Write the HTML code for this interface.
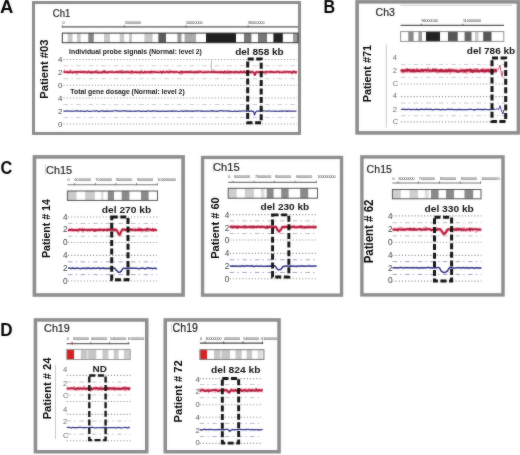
<!DOCTYPE html>
<html><head><meta charset="utf-8"><style>
html,body{margin:0;padding:0;background:#fff;}
svg{display:block;font-family:"Liberation Sans", sans-serif;}
</style></head><body>
<svg width="520" height="455" viewBox="0 0 520 455">
<defs><filter id="soft" x="0" y="0" width="100%" height="100%" color-interpolation-filters="sRGB"><feGaussianBlur in="SourceGraphic" stdDeviation="1" result="b"/><feComposite in="SourceGraphic" in2="b" operator="arithmetic" k1="0" k2="0.65" k3="0.35" k4="0"/></filter></defs>
<g filter="url(#soft)">
<rect width="520" height="455" fill="#fff"/>
<text x="-0.11" y="12.70" font-size="18.00" font-weight="bold" fill="#000" textLength="13.37" lengthAdjust="spacingAndGlyphs" >A</text>
<text x="323.51" y="12.50" font-size="17.50" font-weight="bold" fill="#000" textLength="11.60" lengthAdjust="spacingAndGlyphs" >B</text>
<text x="0.50" y="174.19" font-size="18.34" font-weight="bold" fill="#000" textLength="11.80" lengthAdjust="spacingAndGlyphs" >C</text>
<text x="0.24" y="336.19" font-size="17.59" font-weight="bold" fill="#000" textLength="12.33" lengthAdjust="spacingAndGlyphs" >D</text>
<rect x="33.50" y="2.50" width="266.00" height="131.00" fill="#fff" stroke="#8d8d8d" stroke-width="3"/>
<text x="52.77" y="17.19" font-size="10.40" font-weight="normal" fill="#1a1a1a" textLength="17.50" lengthAdjust="spacingAndGlyphs" stroke="#1a1a1a" stroke-width="0.2">Ch1</text>
<line x1="62.3" y1="26.9" x2="298" y2="26.9" stroke="#555" stroke-width="1.1" />
<line x1="62.3" y1="25.299999999999997" x2="62.3" y2="27.5" stroke="#555" stroke-width="1.0" />
<line x1="124.3" y1="25.299999999999997" x2="124.3" y2="27.5" stroke="#555" stroke-width="1.0" />
<line x1="186" y1="25.299999999999997" x2="186" y2="27.5" stroke="#555" stroke-width="1.0" />
<line x1="248.1" y1="25.299999999999997" x2="248.1" y2="27.5" stroke="#555" stroke-width="1.0" />
<text x="62.4" y="23.5" font-size="3.65" font-weight="normal" fill="#222" text-anchor="start" >0</text>
<text x="124.8" y="23.5" font-size="3.65" font-weight="normal" fill="#222" text-anchor="start" >20000000</text>
<text x="186.3" y="23.5" font-size="3.65" font-weight="normal" fill="#222" text-anchor="start" >50000000</text>
<text x="248.3" y="23.5" font-size="3.65" font-weight="normal" fill="#222" text-anchor="start" >96000000</text>
<rect x="62.3" y="33.1" width="235.7" height="9.600000000000001" fill="#fff" stroke="none"/>
<rect x="67.7" y="33.1" width="4.799999999999997" height="9.600000000000001" fill="#c8c8c8"/>
<rect x="77" y="33.1" width="3.5999999999999943" height="9.600000000000001" fill="#c8c8c8"/>
<rect x="88.3" y="33.1" width="5.5" height="9.600000000000001" fill="#858585"/>
<rect x="104" y="33.1" width="6" height="9.600000000000001" fill="#c8c8c8"/>
<rect x="119.7" y="33.1" width="4.5" height="9.600000000000001" fill="#c8c8c8"/>
<rect x="129" y="33.1" width="3" height="9.600000000000001" fill="#c8c8c8"/>
<rect x="144.4" y="33.1" width="8.099999999999994" height="9.600000000000001" fill="#c8c8c8"/>
<rect x="158.4" y="33.1" width="7.599999999999994" height="9.600000000000001" fill="#5a5a5a"/>
<rect x="177.4" y="33.1" width="4.0" height="9.600000000000001" fill="#999"/>
<rect x="184.6" y="33.1" width="11.400000000000006" height="9.600000000000001" fill="#ababab"/>
<rect x="206" y="33.1" width="30" height="9.600000000000001" fill="#1e1e1e"/>
<rect x="244" y="33.1" width="7.400000000000006" height="9.600000000000001" fill="#777"/>
<rect x="258" y="33.1" width="9" height="9.600000000000001" fill="#777"/>
<rect x="273.4" y="33.1" width="9.400000000000034" height="9.600000000000001" fill="#222"/>
<rect x="293" y="33.1" width="5" height="9.600000000000001" fill="#999"/>
<rect x="62.3" y="33.1" width="235.7" height="9.600000000000001" fill="none" stroke="#333" stroke-width="1"/>
<text x="69.11" y="53.90" font-size="6.70" font-weight="bold" fill="#111" textLength="132.78" lengthAdjust="spacingAndGlyphs" >Individual probe signals (Normal: level 2)</text>
<text x="70.38" y="94.40" font-size="6.75" font-weight="bold" fill="#111" textLength="114.30" lengthAdjust="spacingAndGlyphs" >Total gene dosage (Normal: level 2)</text>
<text x="57.9" y="62.080000000000005" font-size="8" font-weight="normal" fill="#444" text-anchor="start" >4</text>
<text x="57.9" y="74.58" font-size="8" font-weight="normal" fill="#444" text-anchor="start" >2</text>
<text x="57.9" y="87.97999999999999" font-size="8" font-weight="normal" fill="#444" text-anchor="start" >0</text>
<text x="57.9" y="101.08" font-size="8" font-weight="normal" fill="#444" text-anchor="start" >4</text>
<text x="57.9" y="114.17999999999999" font-size="8" font-weight="normal" fill="#444" text-anchor="start" >2</text>
<text x="57.9" y="126.88" font-size="8" font-weight="normal" fill="#444" text-anchor="start" >0</text>
<line x1="63.5" y1="59.5" x2="297" y2="59.5" stroke="#8e8e8e" stroke-width="1.1" stroke-dasharray="1.1,2.05" />
<line x1="63.5" y1="85.3" x2="297" y2="85.3" stroke="#8e8e8e" stroke-width="1.1" stroke-dasharray="1.1,2.05" />
<line x1="63.5" y1="65.8" x2="297" y2="65.8" stroke="#c8c8d2" stroke-width="0.95" stroke-dasharray="4.5,3.2,1.4,3.5" />
<line x1="63.5" y1="78.69999999999999" x2="297" y2="78.69999999999999" stroke="#c8c8d2" stroke-width="0.95" stroke-dasharray="4.5,3.2,1.4,3.5" />
<polyline points="63.5,72.05 65.0,72.20 66.5,72.05 68.0,72.04 69.5,71.91 71.0,72.06 72.5,72.32 74.0,72.18 75.5,72.31 77.0,72.15 78.5,72.18 80.0,72.14 81.5,71.77 83.0,72.27 84.5,72.20 86.0,72.20 87.5,71.76 89.0,71.75 90.5,71.92 92.0,72.01 93.5,72.16 95.0,72.09 96.5,72.20 98.0,71.97 99.5,72.16 101.0,72.18 102.5,71.97 104.0,72.44 105.5,72.21 107.0,72.34 108.5,71.98 110.0,71.95 111.5,72.03 113.0,72.08 114.5,72.23 116.0,72.15 117.5,72.01 119.0,71.91 120.5,72.00 122.0,72.34 123.5,71.94 125.0,72.15 126.5,72.19 128.0,71.80 129.5,72.11 131.0,72.36 132.5,71.70 134.0,72.04 135.5,72.08 137.0,71.94 138.5,72.20 140.0,72.09 141.5,71.81 143.0,72.27 144.5,72.23 146.0,72.29 147.5,72.39 149.0,72.17 150.5,72.12 152.0,71.84 153.5,72.22 155.0,71.98 156.5,72.01 158.0,71.85 159.5,71.91 161.0,71.99 162.5,72.36 164.0,71.69 165.5,71.81 167.0,72.15 168.5,72.39 170.0,72.22 171.5,71.72 173.0,71.60 174.5,72.17 176.0,71.95 177.5,71.88 179.0,72.30 180.5,72.32 182.0,72.13 183.5,72.15 185.0,72.19 186.5,72.42 188.0,72.22 189.5,72.20 191.0,72.21 192.5,71.79 194.0,72.36 195.5,72.29 197.0,72.21 198.5,71.71 200.0,71.97 201.5,72.27 203.0,71.74 204.5,72.06 206.0,72.30 207.5,71.84 209.0,72.42 210.5,72.21 212.0,72.07 213.5,72.16 215.0,72.23 216.5,72.12 218.0,72.33 219.5,71.97 221.0,72.02 222.5,72.31 224.0,72.11 225.5,71.92 227.0,72.29 228.5,72.39 230.0,72.01 231.5,71.82 233.0,72.07 234.5,72.07 236.0,72.04 237.5,72.38 239.0,71.89 240.5,72.35 242.0,71.85 243.5,71.94 245.0,72.23 246.5,72.33 248.0,72.27 249.5,72.17 251.0,72.13 252.5,72.13 254.0,73.12 255.5,73.41 257.0,72.16 258.5,72.21 260.0,72.10 261.5,72.25 263.0,72.21 264.5,72.50 266.0,72.16 267.5,72.01 269.0,72.03 270.5,72.10 272.0,72.28 273.5,72.03 275.0,72.18 276.5,72.47 278.0,71.59 279.5,71.88 281.0,72.15 282.5,72.18 284.0,72.15 285.5,72.01 287.0,72.23 288.5,72.16 290.0,72.00 291.5,72.59 293.0,72.17 294.5,71.99 296.0,72.08" fill="none" stroke="#f4c2cf" stroke-width="3.2" stroke-linejoin="round" opacity="1"/>
<polyline points="63.5,71.87 64.0,72.04 64.4,69.37 64.9,71.61 65.3,73.11 65.8,70.93 66.2,72.03 66.7,73.05 67.1,72.96 67.6,73.59 68.0,70.40 68.5,71.75 68.9,71.76 69.4,72.72 69.8,73.19 70.3,69.42 70.7,73.19 71.2,70.65 71.6,72.78 72.1,70.61 72.5,72.28 73.0,73.29 73.4,71.95 73.9,72.29 74.3,72.90 74.8,72.24 75.2,72.01 75.7,73.63 76.1,73.15 76.6,71.81 77.0,74.85 77.5,70.95 77.9,73.01 78.4,71.83 78.8,72.23 79.3,72.81 79.7,72.32 80.2,72.74 80.6,70.57 81.1,70.59 81.5,72.71 82.0,71.14 82.4,71.07 82.9,70.63 83.3,73.37 83.8,72.85 84.2,73.57 84.7,71.16 85.1,72.10 85.6,70.96 86.0,72.87 86.5,73.69 86.9,71.21 87.4,73.66 87.8,73.09 88.3,71.92 88.7,70.13 89.2,73.51 89.6,72.00 90.1,71.50 90.5,72.50 91.0,72.51 91.4,73.60 91.9,71.08 92.3,73.24 92.8,73.59 93.2,73.55 93.7,71.92 94.1,71.36 94.6,73.12 95.0,72.22 95.5,72.22 95.9,73.52 96.4,71.84 96.8,69.80 97.3,71.71 97.7,70.25 98.2,72.92 98.6,72.42 99.1,71.49 99.5,72.09 100.0,72.93 100.4,72.18 100.9,73.43 101.3,72.04 101.8,73.14 102.2,73.59 102.7,73.71 103.1,71.43 103.6,72.98 104.0,70.22 104.5,71.02 104.9,70.14 105.4,73.17 105.8,70.87 106.3,72.09 106.7,71.91 107.2,72.07 107.6,71.51 108.1,72.33 108.5,73.89 109.0,72.14 109.4,72.63 109.9,73.10 110.3,71.90 110.8,70.84 111.2,71.54 111.7,73.17 112.1,70.45 112.6,71.50 113.0,73.11 113.5,72.89 113.9,72.11 114.4,72.91 114.8,72.27 115.3,70.92 115.7,70.54 116.2,71.46 116.6,73.02 117.1,71.53 117.5,71.20 118.0,71.33 118.4,70.57 118.9,71.98 119.3,70.92 119.8,72.46 120.2,69.74 120.7,72.43 121.1,71.46 121.6,70.16 122.0,72.82 122.5,71.82 122.9,69.87 123.4,71.22 123.8,72.39 124.3,71.64 124.7,72.88 125.2,72.85 125.6,72.77 126.1,72.43 126.5,73.43 127.0,72.76 127.4,72.55 127.9,70.02 128.3,73.00 128.8,73.41 129.2,71.80 129.7,71.63 130.1,74.04 130.6,70.34 131.0,72.57 131.5,74.52 131.9,71.17 132.4,72.79 132.8,73.99 133.3,71.98 133.7,72.66 134.2,73.00 134.6,71.19 135.1,72.01 135.5,72.39 136.0,72.93 136.4,72.07 136.9,71.90 137.3,71.08 137.8,71.74 138.2,72.99 138.7,72.20 139.1,71.25 139.6,71.26 140.0,74.77 140.5,73.24 140.9,72.74 141.4,69.51 141.8,72.72 142.3,72.58 142.7,73.78 143.2,72.53 143.6,72.03 144.1,72.62 144.5,70.16 144.9,73.13 145.4,72.42 145.8,71.40 146.3,73.43 146.7,73.91 147.2,70.70 147.6,71.43 148.1,72.39 148.5,72.28 149.0,71.70 149.4,71.13 149.9,74.22 150.3,73.14 150.8,70.91 151.2,70.75 151.7,73.80 152.1,73.09 152.6,73.92 153.0,72.91 153.5,71.23 153.9,72.36 154.4,69.94 154.8,71.35 155.3,72.04 155.7,72.62 156.2,71.37 156.6,71.98 157.1,72.56 157.5,72.48 158.0,72.74 158.4,72.31 158.9,71.78 159.3,72.89 159.8,72.15 160.2,71.27 160.7,71.47 161.1,72.10 161.6,71.99 162.0,72.26 162.5,72.10 162.9,72.28 163.4,71.97 163.8,70.84 164.3,72.52 164.7,73.15 165.2,72.53 165.6,71.91 166.1,72.55 166.5,71.13 167.0,70.20 167.4,72.16 167.9,71.17 168.3,72.84 168.8,71.02 169.2,69.47 169.7,71.06 170.1,73.68 170.6,71.72 171.0,70.73 171.5,71.34 171.9,72.62 172.4,72.60 172.8,72.28 173.3,73.58 173.7,72.81 174.2,72.08 174.6,72.70 175.1,73.75 175.5,73.07 176.0,73.12 176.4,71.02 176.9,71.95 177.3,72.83 177.8,71.80 178.2,73.17 178.7,72.70 179.1,73.01 179.6,71.89 180.0,74.65 180.5,73.34 180.9,71.88 181.4,72.19 181.8,74.70 182.3,71.76 182.7,72.97 183.2,73.08 183.6,72.11 184.1,70.93 184.5,72.29 185.0,72.46 185.4,73.23 185.9,72.88 186.3,72.12 186.8,72.95 187.2,72.64 187.7,72.31 188.1,72.16 188.6,71.86 189.0,72.79 189.5,71.05 189.9,71.47 190.4,72.10 190.8,70.64 191.3,71.66 191.7,70.09 192.2,71.42 192.6,72.67 193.1,72.67 193.5,72.05 194.0,71.87 194.4,70.68 194.9,73.93 195.3,72.62 195.8,73.19 196.2,71.22 196.7,71.91 197.1,70.28 197.6,72.88 198.0,73.04 198.5,70.20 198.9,72.05 199.4,72.73 199.8,70.34 200.3,70.27 200.7,71.03 201.2,71.47 201.6,70.70 202.1,72.13 202.5,72.35 203.0,72.73 203.4,72.80 203.9,73.60 204.3,73.26 204.8,70.79 205.2,71.59 205.7,71.04 206.1,71.02 206.6,72.02 207.0,72.11 207.5,72.59 207.9,70.51 208.4,70.86 208.8,72.08 209.3,71.90 209.7,71.79 210.2,72.04 210.6,71.34 211.1,72.80 211.5,72.45 212.0,72.01 212.4,71.43 212.9,71.93 213.3,69.38 213.8,71.12 214.2,72.14 214.7,70.60 215.1,72.30 215.6,72.25 216.0,70.72 216.5,71.85 216.9,71.79 217.4,72.56 217.8,72.71 218.3,72.06 218.7,71.25 219.2,71.96 219.6,72.03 220.1,72.83 220.5,72.39 221.0,71.38 221.4,70.75 221.9,71.73 222.3,71.36 222.8,70.99 223.2,71.98 223.7,71.61 224.1,72.21 224.6,72.62 225.0,71.69 225.5,74.42 225.9,71.78 226.4,73.20 226.8,72.22 227.3,73.22 227.7,69.72 228.2,71.35 228.6,72.35 229.1,72.70 229.5,74.44 230.0,72.42 230.4,73.38 230.9,72.87 231.3,73.05 231.8,72.61 232.2,71.94 232.7,72.61 233.1,71.02 233.6,73.28 234.0,71.08 234.5,72.35 234.9,74.22 235.4,71.88 235.8,72.12 236.3,73.26 236.7,72.13 237.2,71.29 237.6,72.36 238.1,72.68 238.5,72.81 239.0,71.33 239.4,73.85 239.9,73.77 240.3,72.12 240.8,72.37 241.2,71.67 241.7,73.51 242.1,71.40 242.6,72.77 243.0,71.62 243.5,71.41 243.9,72.82 244.4,73.43 244.8,72.09 245.3,71.42 245.7,72.91 246.2,72.05 246.6,72.41 247.1,73.62 247.5,73.23 248.0,71.58 248.4,74.38 248.9,72.10 249.3,72.89 249.8,71.45 250.2,72.06 250.7,70.35 251.1,73.89 251.6,73.47 252.0,70.88 252.5,70.59 252.9,70.48 253.4,73.28 253.8,71.87 254.3,74.29 254.7,76.06 255.2,74.68 255.6,71.69 256.1,72.12 256.5,70.66 257.0,72.03 257.4,72.41 257.9,72.57 258.3,71.87 258.8,71.20 259.2,72.26 259.7,71.62 260.1,73.67 260.6,72.87 261.0,71.98 261.5,71.63 261.9,71.40 262.4,71.16 262.8,71.75 263.3,72.39 263.7,72.62 264.2,72.67 264.6,74.20 265.1,71.40 265.5,72.11 266.0,74.89 266.4,70.23 266.9,71.58 267.3,72.27 267.8,72.25 268.2,72.51 268.7,71.86 269.1,72.47 269.6,72.15 270.0,72.87 270.5,70.21 270.9,71.21 271.4,72.10 271.8,71.07 272.3,71.06 272.7,72.73 273.2,71.45 273.6,72.73 274.1,72.85 274.5,72.41 275.0,72.61 275.4,72.00 275.9,70.69 276.3,72.07 276.8,72.55 277.2,71.57 277.7,72.00 278.1,72.85 278.6,71.22 279.0,72.74 279.5,73.96 279.9,71.55 280.4,72.25 280.8,71.95 281.3,73.64 281.7,72.42 282.2,73.00 282.6,71.41 283.1,72.08 283.5,72.09 284.0,70.32 284.4,73.54 284.9,73.00 285.3,70.35 285.8,72.84 286.2,71.97 286.7,72.55 287.1,72.47 287.6,70.60 288.0,71.89 288.5,73.59 288.9,71.53 289.4,71.08 289.8,70.74 290.3,70.88 290.7,72.44 291.2,73.79 291.6,72.53 292.1,72.35 292.5,74.33 293.0,71.58 293.4,71.43 293.9,72.63 294.3,72.65 294.8,71.09 295.2,70.93 295.7,72.39 296.1,72.35 296.6,70.79" fill="none" stroke="#de6080" stroke-width="0.65" stroke-linejoin="round" opacity="0.8"/>
<polyline points="63.5,72.03 64.2,71.91 64.9,72.26 65.6,72.06 66.3,72.07 67.0,71.98 67.7,72.47 68.4,72.59 69.1,71.97 69.8,72.40 70.5,71.83 71.2,72.13 71.9,72.36 72.6,72.63 73.3,71.97 74.0,72.07 74.7,72.17 75.4,71.58 76.1,72.11 76.8,71.86 77.5,72.23 78.2,71.70 78.9,71.41 79.6,72.11 80.3,72.19 81.0,71.91 81.7,72.41 82.4,72.00 83.1,71.89 83.8,72.27 84.5,71.55 85.2,71.86 85.9,72.09 86.6,72.40 87.3,72.04 88.0,72.21 88.7,71.87 89.4,72.21 90.1,72.68 90.8,71.86 91.5,72.93 92.2,71.87 92.9,72.11 93.6,72.16 94.3,72.46 95.0,71.67 95.7,71.36 96.4,72.31 97.1,72.38 97.8,72.32 98.5,73.02 99.2,72.17 99.9,72.19 100.6,72.43 101.3,72.23 102.0,72.68 102.7,71.67 103.4,71.97 104.1,70.89 104.8,72.38 105.5,71.97 106.2,72.42 106.9,72.85 107.6,72.10 108.3,72.01 109.0,71.93 109.7,71.81 110.4,71.88 111.1,72.32 111.8,72.11 112.5,72.12 113.2,72.04 113.9,72.42 114.6,72.27 115.3,72.05 116.0,72.33 116.7,72.05 117.4,71.70 118.1,72.61 118.8,72.26 119.5,71.76 120.2,72.48 120.9,72.22 121.6,71.55 122.3,72.66 123.0,72.22 123.7,72.41 124.4,72.17 125.1,72.05 125.8,71.56 126.5,72.44 127.2,72.11 127.9,72.00 128.6,72.22 129.3,72.13 130.0,72.34 130.7,71.97 131.4,72.09 132.1,71.35 132.8,71.95 133.5,72.34 134.2,72.57 134.9,71.97 135.6,72.06 136.3,72.65 137.0,71.99 137.7,72.36 138.4,72.69 139.1,72.11 139.8,72.53 140.5,71.85 141.2,72.17 141.9,72.07 142.6,72.14 143.3,72.50 144.0,72.94 144.7,71.87 145.4,71.90 146.1,72.27 146.8,71.73 147.5,72.27 148.2,72.30 148.9,72.00 149.6,72.29 150.3,71.56 151.0,72.37 151.7,71.56 152.4,71.86 153.1,71.91 153.8,71.96 154.5,72.40 155.2,72.13 155.9,71.96 156.6,72.29 157.3,72.65 158.0,72.10 158.7,72.23 159.4,72.53 160.1,72.19 160.8,71.65 161.5,72.97 162.2,72.87 162.9,71.41 163.6,72.09 164.3,72.25 165.0,72.44 165.7,72.33 166.4,72.00 167.1,71.73 167.8,72.14 168.5,72.46 169.2,71.72 169.9,71.74 170.6,72.09 171.3,71.42 172.0,72.01 172.7,71.95 173.4,72.26 174.1,71.85 174.8,71.79 175.5,71.96 176.2,72.08 176.9,71.87 177.6,72.10 178.3,72.36 179.0,72.51 179.7,72.70 180.4,71.83 181.1,71.95 181.8,71.23 182.5,72.76 183.2,71.85 183.9,72.09 184.6,72.28 185.3,71.62 186.0,72.26 186.7,72.09 187.4,71.46 188.1,72.20 188.8,72.52 189.5,71.45 190.2,72.38 190.9,72.17 191.6,72.27 192.3,72.25 193.0,72.56 193.7,72.02 194.4,72.41 195.1,71.96 195.8,72.35 196.5,71.82 197.2,72.06 197.9,72.71 198.6,72.26 199.3,72.04 200.0,71.70 200.7,71.82 201.4,72.17 202.1,72.43 202.8,72.25 203.5,72.28 204.2,72.09 204.9,72.57 205.6,71.96 206.3,71.91 207.0,72.41 207.7,72.12 208.4,72.00 209.1,71.90 209.8,72.01 210.5,72.32 211.2,72.22 211.9,71.68 212.6,72.25 213.3,72.16 214.0,71.75 214.7,72.37 215.4,72.00 216.1,71.98 216.8,72.38 217.5,72.56 218.2,71.86 218.9,72.25 219.6,71.79 220.3,72.91 221.0,71.93 221.7,72.52 222.4,71.87 223.1,72.38 223.8,72.88 224.5,71.21 225.2,71.95 225.9,72.28 226.6,72.07 227.3,71.87 228.0,72.85 228.7,72.13 229.4,71.52 230.1,72.40 230.8,71.50 231.5,72.50 232.2,71.90 232.9,72.15 233.6,72.54 234.3,72.14 235.0,71.61 235.7,71.51 236.4,72.51 237.1,72.36 237.8,71.81 238.5,72.40 239.2,72.27 239.9,72.33 240.6,71.31 241.3,71.99 242.0,72.42 242.7,72.36 243.4,72.41 244.1,71.24 244.8,72.16 245.5,72.27 246.2,72.99 246.9,71.77 247.6,71.98 248.3,72.11 249.0,72.41 249.7,71.94 250.4,72.50 251.1,71.82 251.8,72.19 252.5,71.92 253.2,72.16 253.9,72.31 254.6,75.14 255.3,74.73 256.0,72.21 256.7,71.90 257.4,72.17 258.1,72.45 258.8,71.76 259.5,72.06 260.2,72.29 260.9,72.28 261.6,71.98 262.3,71.36 263.0,72.54 263.7,72.21 264.4,72.10 265.1,72.00 265.8,72.19 266.5,71.95 267.2,71.74 267.9,71.84 268.6,71.89 269.3,71.89 270.0,71.69 270.7,72.32 271.4,71.64 272.1,72.33 272.8,71.74 273.5,72.22 274.2,72.58 274.9,72.17 275.6,71.84 276.3,72.12 277.0,72.15 277.7,71.49 278.4,71.89 279.1,72.16 279.8,71.94 280.5,72.13 281.2,72.36 281.9,72.37 282.6,72.42 283.3,72.31 284.0,72.00 284.7,72.09 285.4,72.01 286.1,71.99 286.8,72.04 287.5,71.50 288.2,71.98 288.9,72.09 289.6,71.76 290.3,72.09 291.0,72.28 291.7,72.04 292.4,72.83 293.1,71.19 293.8,72.03 294.5,71.46 295.2,72.44 295.9,73.03 296.6,71.22" fill="none" stroke="#b01838" stroke-width="1.5" stroke-linejoin="round" opacity="1"/>
<line x1="211.4" y1="60.5" x2="211.4" y2="71" stroke="#8a8a8a" stroke-width="0.6" />
<line x1="63.5" y1="98" x2="297" y2="98" stroke="#8e8e8e" stroke-width="1.1" stroke-dasharray="1.1,2.05" />
<line x1="63.5" y1="124" x2="297" y2="124" stroke="#8e8e8e" stroke-width="1.1" stroke-dasharray="1.1,2.05" />
<line x1="63.5" y1="104.55" x2="297" y2="104.55" stroke="#c4c6d2" stroke-width="0.95" stroke-dasharray="4.5,3.2,1.4,3.5" />
<line x1="63.5" y1="117.55" x2="297" y2="117.55" stroke="#c4c6d2" stroke-width="0.95" stroke-dasharray="4.5,3.2,1.4,3.5" />
<polyline points="63.5,111.13 64.5,111.20 65.5,111.04 66.5,111.21 67.5,110.65 68.5,111.27 69.5,111.17 70.5,111.10 71.5,110.98 72.5,111.23 73.5,111.00 74.5,111.14 75.5,111.00 76.5,110.65 77.5,111.09 78.5,111.14 79.5,111.25 80.5,110.92 81.5,111.09 82.5,111.22 83.5,111.13 84.5,111.35 85.5,111.50 86.5,110.92 87.5,110.72 88.5,111.27 89.5,111.41 90.5,111.28 91.5,111.26 92.5,110.98 93.5,110.96 94.5,111.28 95.5,110.92 96.5,110.74 97.5,110.90 98.5,111.60 99.5,111.48 100.5,110.96 101.5,110.95 102.5,111.15 103.5,110.95 104.5,111.36 105.5,111.08 106.5,110.88 107.5,111.36 108.5,110.98 109.5,111.14 110.5,111.10 111.5,111.04 112.5,111.16 113.5,110.96 114.5,110.73 115.5,110.66 116.5,110.85 117.5,110.95 118.5,111.10 119.5,111.11 120.5,111.21 121.5,111.12 122.5,110.94 123.5,110.96 124.5,110.68 125.5,111.07 126.5,111.20 127.5,111.21 128.5,111.08 129.5,111.07 130.5,111.29 131.5,111.10 132.5,111.25 133.5,111.22 134.5,111.14 135.5,111.36 136.5,110.99 137.5,111.03 138.5,110.94 139.5,110.94 140.5,111.41 141.5,111.45 142.5,111.10 143.5,111.21 144.5,111.34 145.5,111.26 146.5,111.34 147.5,110.85 148.5,110.97 149.5,111.19 150.5,111.39 151.5,111.12 152.5,110.93 153.5,111.03 154.5,110.97 155.5,110.93 156.5,111.40 157.5,110.97 158.5,111.10 159.5,111.53 160.5,111.34 161.5,111.17 162.5,110.98 163.5,111.18 164.5,111.42 165.5,111.22 166.5,111.35 167.5,111.12 168.5,111.20 169.5,111.06 170.5,111.19 171.5,111.36 172.5,110.81 173.5,111.09 174.5,111.15 175.5,110.99 176.5,111.04 177.5,111.26 178.5,111.50 179.5,111.23 180.5,111.17 181.5,110.79 182.5,111.49 183.5,111.12 184.5,111.09 185.5,110.88 186.5,111.09 187.5,110.88 188.5,111.11 189.5,111.19 190.5,111.11 191.5,111.16 192.5,110.93 193.5,111.39 194.5,110.97 195.5,110.74 196.5,111.06 197.5,110.95 198.5,110.90 199.5,111.03 200.5,111.16 201.5,110.86 202.5,111.07 203.5,111.39 204.5,111.24 205.5,111.07 206.5,111.13 207.5,111.08 208.5,111.09 209.5,111.25 210.5,111.08 211.5,110.62 212.5,111.10 213.5,110.92 214.5,111.23 215.5,110.98 216.5,111.13 217.5,111.54 218.5,110.89 219.5,110.88 220.5,110.82 221.5,110.62 222.5,110.72 223.5,111.17 224.5,110.97 225.5,110.73 226.5,110.80 227.5,111.22 228.5,110.94 229.5,111.03 230.5,111.17 231.5,111.37 232.5,111.49 233.5,111.31 234.5,111.13 235.5,111.14 236.5,111.46 237.5,111.39 238.5,111.04 239.5,111.19 240.5,111.16 241.5,111.11 242.5,111.00 243.5,110.83 244.5,110.99 245.5,110.79 246.5,111.34 247.5,111.21 248.5,110.86 249.5,111.38 250.5,111.28 251.5,110.72 252.5,111.47 253.5,111.26 254.5,115.01 255.5,112.35 256.5,111.21 257.5,111.18 258.5,111.14 259.5,111.13 260.5,111.31 261.5,110.80 262.5,110.85 263.5,110.82 264.5,110.99 265.5,110.98 266.5,111.17 267.5,111.15 268.5,111.11 269.5,110.96 270.5,111.01 271.5,111.29 272.5,111.25 273.5,111.12 274.5,111.04 275.5,111.41 276.5,110.98 277.5,111.23 278.5,111.33 279.5,111.05 280.5,111.27 281.5,110.88 282.5,111.30 283.5,111.14 284.5,110.78 285.5,111.23 286.5,110.92 287.5,111.36 288.5,110.96 289.5,111.07 290.5,111.16 291.5,111.03 292.5,111.15 293.5,110.99 294.5,111.23 295.5,111.10 296.5,111.14" fill="none" stroke="#2e2e84" stroke-width="1.2" stroke-linejoin="round" opacity="1"/>
<text x="235.15" y="54.69" font-size="9.71" font-weight="bold" fill="#111" textLength="48.61" lengthAdjust="spacingAndGlyphs" >del 858 kb</text>
<rect x="247.7" y="59.0" width="13.5" height="63.8" fill="none" stroke="#111" stroke-width="3" stroke-dasharray="6,2.6"/>
<text transform="translate(47.99,98.78) rotate(-90)" font-size="11.09" font-weight="bold" fill="#000" textLength="59.23" lengthAdjust="spacingAndGlyphs">Patient #03</text>
<rect x="357.10" y="1.80" width="161.40" height="131.10" fill="#fff" stroke="#8d8d8d" stroke-width="3.6"/>
<line x1="400.6" y1="5.2" x2="512" y2="5.2" stroke="#c4c4c4" stroke-width="0.9" />
<text x="375.52" y="16.39" font-size="10.40" font-weight="normal" fill="#1a1a1a" textLength="19.34" lengthAdjust="spacingAndGlyphs" stroke="#1a1a1a" stroke-width="0.2">Ch3</text>
<line x1="400.6" y1="25.4" x2="504" y2="25.4" stroke="#555" stroke-width="1.1" />
<line x1="421.3" y1="23.799999999999997" x2="421.3" y2="26.0" stroke="#555" stroke-width="1.0" />
<line x1="462.8" y1="23.799999999999997" x2="462.8" y2="26.0" stroke="#555" stroke-width="1.0" />
<text x="421.5" y="22.0" font-size="3.65" font-weight="normal" fill="#222" text-anchor="start" >96000000</text>
<text x="463" y="22.0" font-size="3.65" font-weight="normal" fill="#222" text-anchor="start" >110000000</text>
<rect x="400.6" y="31.6" width="103.19999999999999" height="9.799999999999997" fill="#fff" stroke="none"/>
<rect x="408.3" y="31.6" width="5.300000000000011" height="9.799999999999997" fill="#888"/>
<rect x="418.4" y="31.6" width="3.6000000000000227" height="9.799999999999997" fill="#999"/>
<rect x="426" y="31.6" width="14" height="9.799999999999997" fill="#222"/>
<rect x="448" y="31.6" width="9.699999999999989" height="9.799999999999997" fill="#555"/>
<rect x="464.6" y="31.6" width="6.899999999999977" height="9.799999999999997" fill="#666"/>
<rect x="475" y="31.6" width="3.5" height="9.799999999999997" fill="#ccc"/>
<rect x="483.2" y="31.6" width="8.300000000000011" height="9.799999999999997" fill="#555"/>
<rect x="400.6" y="31.6" width="103.19999999999999" height="9.799999999999997" fill="none" stroke="#8f8f8f" stroke-width="1"/>
<line x1="386.3" y1="44.5" x2="386.3" y2="127.5" stroke="#c8c8c8" stroke-width="1" />
<text transform="translate(371.49,102.36) rotate(-90)" font-size="11.37" font-weight="bold" fill="#000" textLength="57.38" lengthAdjust="spacingAndGlyphs">Patient #71</text>
<text x="392.8" y="59.635999999999996" font-size="7.6" font-weight="normal" fill="#666" text-anchor="start" >4</text>
<text x="392.8" y="73.236" font-size="7.6" font-weight="normal" fill="#666" text-anchor="start" >2</text>
<text x="392.8" y="85.936" font-size="7.6" font-weight="normal" fill="#666" text-anchor="start" >C</text>
<text x="392.8" y="97.836" font-size="7.6" font-weight="normal" fill="#666" text-anchor="start" >4</text>
<text x="392.8" y="112.036" font-size="7.6" font-weight="normal" fill="#666" text-anchor="start" >2</text>
<text x="392.8" y="124.336" font-size="7.6" font-weight="normal" fill="#666" text-anchor="start" >C</text>
<line x1="401" y1="84" x2="505" y2="84" stroke="#8e8e8e" stroke-width="1.1" stroke-dasharray="1.1,2.05" />
<line x1="401" y1="64.45" x2="505" y2="64.45" stroke="#c4c6d0" stroke-width="0.95" stroke-dasharray="4.5,3.2,1.4,3.5" />
<line x1="401" y1="77.35" x2="505" y2="77.35" stroke="#c4c6d0" stroke-width="0.95" stroke-dasharray="4.5,3.2,1.4,3.5" />
<polyline points="401.0,70.15 402.5,70.93 404.0,70.71 405.5,70.34 407.0,70.72 408.5,70.79 410.0,70.91 411.5,70.48 413.0,71.01 414.5,70.67 416.0,71.18 417.5,70.67 419.0,70.84 420.5,70.63 422.0,70.48 423.5,70.92 425.0,70.88 426.5,71.01 428.0,70.87 429.5,70.59 431.0,70.37 432.5,70.57 434.0,70.56 435.5,70.54 437.0,70.82 438.5,70.77 440.0,70.65 441.5,70.73 443.0,70.67 444.5,70.74 446.0,70.85 447.5,70.89 449.0,70.56 450.5,70.40 452.0,70.99 453.5,70.72 455.0,70.92 456.5,70.37 458.0,70.63 459.5,70.71 461.0,70.41 462.5,70.60 464.0,70.84 465.5,70.92 467.0,71.02 468.5,70.53 470.0,70.42 471.5,70.80 473.0,70.89 474.5,70.74 476.0,70.44 477.5,70.86 479.0,70.86 480.5,70.81 482.0,70.60 483.5,70.76 485.0,70.86 486.5,70.59 488.0,70.33 489.5,70.77 491.0,70.80 492.5,70.70 494.0,70.88 495.5,70.58 497.0,70.68" fill="none" stroke="#f4c2cf" stroke-width="4.4799999999999995" stroke-linejoin="round" opacity="1"/>
<polyline points="401.0,70.27 401.4,71.50 401.9,72.93 402.3,70.35 402.8,73.58 403.2,72.84 403.7,71.81 404.1,71.52 404.6,73.18 405.0,70.45 405.5,70.54 405.9,69.21 406.4,71.36 406.8,72.58 407.3,71.45 407.7,71.29 408.2,70.42 408.6,70.94 409.1,68.70 409.5,72.17 410.0,70.13 410.4,69.15 410.9,69.65 411.3,69.55 411.8,71.90 412.2,72.18 412.7,68.80 413.1,72.00 413.6,71.94 414.0,69.89 414.5,68.62 414.9,69.66 415.4,69.81 415.8,71.18 416.3,70.20 416.7,67.86 417.2,71.03 417.6,68.55 418.1,71.97 418.5,69.01 419.0,69.73 419.4,69.50 419.9,69.94 420.3,72.52 420.8,71.89 421.2,71.54 421.7,71.15 422.1,68.53 422.6,69.97 423.0,69.93 423.5,69.33 423.9,71.41 424.4,69.66 424.8,69.71 425.3,69.24 425.7,67.82 426.2,71.53 426.6,72.56 427.1,70.94 427.5,69.33 428.0,66.91 428.4,70.94 428.9,72.40 429.3,71.12 429.8,72.00 430.2,72.77 430.7,72.28 431.1,70.08 431.6,72.17 432.0,71.79 432.5,68.55 432.9,70.13 433.4,68.71 433.8,70.55 434.3,71.51 434.7,69.20 435.2,67.82 435.6,72.52 436.1,71.23 436.5,72.76 437.0,68.85 437.4,72.18 437.9,73.60 438.3,73.51 438.8,70.41 439.2,71.08 439.7,70.48 440.1,72.10 440.6,72.15 441.0,70.82 441.5,68.80 441.9,71.74 442.4,70.04 442.8,71.58 443.3,71.07 443.7,72.97 444.2,72.29 444.6,70.07 445.1,71.19 445.5,73.17 446.0,69.95 446.4,71.31 446.9,72.37 447.3,72.46 447.8,71.43 448.2,68.85 448.7,68.93 449.1,71.05 449.6,71.24 450.0,74.27 450.5,69.49 450.9,72.29 451.4,71.78 451.8,68.36 452.3,69.55 452.7,70.93 453.2,70.01 453.6,70.48 454.1,71.36 454.5,69.57 455.0,71.35 455.4,69.81 455.9,69.94 456.3,71.45 456.8,69.90 457.2,71.10 457.7,72.94 458.1,70.74 458.6,70.50 459.0,71.73 459.5,70.19 459.9,72.22 460.4,68.90 460.8,71.57 461.3,69.98 461.7,69.58 462.2,73.18 462.6,69.51 463.1,73.16 463.5,71.62 464.0,72.73 464.4,69.33 464.9,72.38 465.3,72.74 465.8,70.54 466.2,70.52 466.7,74.14 467.1,70.95 467.6,70.11 468.0,69.82 468.5,71.32 468.9,71.16 469.4,70.95 469.8,73.11 470.3,70.24 470.7,71.36 471.2,72.74 471.6,69.29 472.1,72.15 472.5,73.26 473.0,68.80 473.4,69.16 473.9,69.25 474.3,68.12 474.8,71.33 475.2,68.10 475.7,71.40 476.1,72.73 476.6,68.44 477.0,70.26 477.5,68.01 477.9,71.79 478.4,69.67 478.8,70.33 479.3,70.78 479.7,71.46 480.2,70.21 480.6,70.72 481.1,69.93 481.5,70.86 482.0,69.06 482.4,70.79 482.9,67.99 483.3,70.01 483.8,73.38 484.2,70.81 484.7,68.94 485.1,71.06 485.6,69.34 486.0,68.39 486.5,69.67 486.9,71.73 487.4,71.24 487.8,70.56 488.3,69.40 488.7,69.19 489.2,72.59 489.6,71.04 490.1,69.37 490.5,67.74 491.0,68.78 491.4,74.17 491.9,69.09 492.3,70.59 492.8,70.99 493.2,70.48 493.7,70.31 494.1,68.78 494.6,69.23 495.0,73.06 495.5,69.64 495.9,71.88 496.4,68.33 496.8,70.32 497.3,71.07" fill="none" stroke="#de6080" stroke-width="0.65" stroke-linejoin="round" opacity="0.8"/>
<polyline points="401.0,71.21 401.7,70.15 402.4,70.99 403.1,70.89 403.8,70.34 404.5,70.93 405.2,70.26 405.9,70.31 406.6,70.69 407.3,69.37 408.0,70.65 408.7,70.21 409.4,69.98 410.1,70.49 410.8,71.07 411.5,70.50 412.2,71.32 412.9,70.13 413.6,70.06 414.3,71.46 415.0,70.90 415.7,71.16 416.4,70.29 417.1,71.09 417.8,70.83 418.5,71.02 419.2,70.71 419.9,71.29 420.6,70.38 421.3,70.23 422.0,69.98 422.7,71.27 423.4,70.34 424.1,70.19 424.8,70.24 425.5,70.48 426.2,70.08 426.9,70.56 427.6,70.39 428.3,70.43 429.0,70.23 429.7,70.72 430.4,70.47 431.1,70.76 431.8,70.82 432.5,70.87 433.2,69.63 433.9,70.44 434.6,70.31 435.3,71.08 436.0,69.93 436.7,70.35 437.4,70.56 438.1,70.54 438.8,71.19 439.5,70.48 440.2,71.17 440.9,69.98 441.6,69.81 442.3,71.30 443.0,70.91 443.7,70.94 444.4,70.76 445.1,70.94 445.8,70.10 446.5,71.16 447.2,70.44 447.9,71.18 448.6,70.74 449.3,69.73 450.0,70.07 450.7,71.25 451.4,70.63 452.1,70.51 452.8,70.82 453.5,70.49 454.2,70.43 454.9,70.75 455.6,70.77 456.3,71.44 457.0,70.72 457.7,71.62 458.4,71.58 459.1,71.54 459.8,71.22 460.5,70.76 461.2,70.77 461.9,70.63 462.6,70.34 463.3,70.67 464.0,70.39 464.7,71.50 465.4,70.96 466.1,70.48 466.8,69.76 467.5,70.67 468.2,70.50 468.9,70.17 469.6,70.14 470.3,69.60 471.0,70.98 471.7,70.67 472.4,71.96 473.1,70.68 473.8,70.63 474.5,71.41 475.2,70.77 475.9,70.78 476.6,70.52 477.3,70.40 478.0,71.43 478.7,71.19 479.4,71.54 480.1,70.53 480.8,70.71 481.5,70.27 482.2,71.17 482.9,70.02 483.6,70.98 484.3,71.24 485.0,71.39 485.7,70.24 486.4,71.23 487.1,70.35 487.8,70.33 488.5,70.05 489.2,71.27 489.9,71.51 490.6,70.41 491.3,70.33 492.0,70.53 492.7,71.93 493.4,71.19 494.1,70.43 494.8,69.82 495.5,70.37 496.2,71.28 496.9,71.62" fill="none" stroke="#b01838" stroke-width="2.0999999999999996" stroke-linejoin="round" opacity="1"/>
<polyline points="497.5,70.5 499,68 500,65 501,72 502,76.5 503,71" fill="none" stroke="#b03050" stroke-width="0.8"/>
<line x1="401" y1="96.6" x2="505" y2="96.6" stroke="#8e8e8e" stroke-width="1.1" stroke-dasharray="1.1,2.05" />
<line x1="401" y1="121.9" x2="505" y2="121.9" stroke="#8e8e8e" stroke-width="1.1" stroke-dasharray="1.1,2.05" />
<line x1="401" y1="103.05" x2="505" y2="103.05" stroke="#c0c2d0" stroke-width="0.95" stroke-dasharray="4.5,3.2,1.4,3.5" />
<line x1="401" y1="115.7" x2="505" y2="115.7" stroke="#c0c2d0" stroke-width="0.95" stroke-dasharray="4.5,3.2,1.4,3.5" />
<polyline points="401.0,109.45 402.0,109.36 403.0,109.40 404.0,109.12 405.0,109.68 406.0,109.28 407.0,109.71 408.0,109.16 409.0,109.25 410.0,109.56 411.0,109.35 412.0,109.66 413.0,109.50 414.0,109.27 415.0,109.62 416.0,109.67 417.0,109.12 418.0,109.87 419.0,109.60 420.0,109.65 421.0,109.13 422.0,109.36 423.0,109.43 424.0,109.72 425.0,109.21 426.0,109.32 427.0,109.09 428.0,109.45 429.0,109.57 430.0,109.16 431.0,109.38 432.0,109.60 433.0,109.82 434.0,109.63 435.0,109.44 436.0,109.26 437.0,109.31 438.0,109.37 439.0,109.53 440.0,109.49 441.0,109.83 442.0,109.56 443.0,109.29 444.0,109.81 445.0,109.69 446.0,109.52 447.0,109.36 448.0,109.13 449.0,109.30 450.0,109.68 451.0,109.34 452.0,109.24 453.0,109.54 454.0,109.55 455.0,109.62 456.0,109.63 457.0,109.78 458.0,109.33 459.0,109.70 460.0,109.30 461.0,109.64 462.0,109.54 463.0,109.55 464.0,109.69 465.0,109.50 466.0,109.72 467.0,109.68 468.0,109.53 469.0,109.39 470.0,109.35 471.0,109.39 472.0,109.46 473.0,109.50 474.0,110.10 475.0,109.63 476.0,109.65 477.0,109.33 478.0,109.36 479.0,109.44 480.0,109.54 481.0,109.29 482.0,109.82 483.0,109.39 484.0,109.72 485.0,109.03 486.0,109.50 487.0,109.56 488.0,109.54 489.0,109.62 490.0,109.56 491.0,109.53 492.0,109.12 493.0,109.36 494.0,109.03 495.0,109.63" fill="none" stroke="#2e2e84" stroke-width="1.25" stroke-linejoin="round" opacity="1"/>
<polyline points="495.4,109.7 497,108.5 498.5,110 500,105.7 501.5,111 503,114 503.6,110" fill="none" stroke="#303090" stroke-width="0.9"/>
<text x="466.75" y="54.19" font-size="9.43" font-weight="bold" fill="#111" textLength="48.51" lengthAdjust="spacingAndGlyphs" >del 786 kb</text>
<rect x="492.0" y="58.0" width="13.699999999999989" height="63.5" fill="none" stroke="#111" stroke-width="3" stroke-dasharray="6,2.6"/>
<rect x="34.40" y="156.90" width="148.70" height="138.10" fill="#fff" stroke="#8d8d8d" stroke-width="3.6"/>
<line x1="45.6" y1="164" x2="45.6" y2="174.5" stroke="#bbb" stroke-width="0.6" />
<text x="46.00" y="173.79" font-size="11.09" font-weight="normal" fill="#1a1a1a" textLength="26.09" lengthAdjust="spacingAndGlyphs" stroke="#1a1a1a" stroke-width="0.2">Ch15</text>
<line x1="67.4" y1="184.7" x2="157.3" y2="184.7" stroke="#777" stroke-width="1.1" />
<line x1="74.4" y1="183.1" x2="74.4" y2="185.29999999999998" stroke="#777" stroke-width="1.0" />
<line x1="95.3" y1="183.1" x2="95.3" y2="185.29999999999998" stroke="#777" stroke-width="1.0" />
<line x1="115.9" y1="183.1" x2="115.9" y2="185.29999999999998" stroke="#777" stroke-width="1.0" />
<line x1="136.6" y1="183.1" x2="136.6" y2="185.29999999999998" stroke="#777" stroke-width="1.0" />
<line x1="157.3" y1="183.1" x2="157.3" y2="185.29999999999998" stroke="#777" stroke-width="1.0" />
<text x="67.6" y="181.29999999999998" font-size="3.65" font-weight="normal" fill="#222" text-anchor="start" >0</text>
<text x="74.6" y="181.29999999999998" font-size="3.65" font-weight="normal" fill="#222" text-anchor="start" >60000000</text>
<text x="95.6" y="181.29999999999998" font-size="3.65" font-weight="normal" fill="#222" text-anchor="start" >70000000</text>
<text x="116.2" y="181.29999999999998" font-size="3.65" font-weight="normal" fill="#222" text-anchor="start" >80000000</text>
<text x="136.9" y="181.29999999999998" font-size="3.65" font-weight="normal" fill="#222" text-anchor="start" >90000000</text>
<text x="157.6" y="181.29999999999998" font-size="3.65" font-weight="normal" fill="#222" text-anchor="start" >100000000</text>
<rect x="67.4" y="191.0" width="90.1" height="9.400000000000006" fill="#fff" stroke="none"/>
<rect x="67.8" y="191.0" width="8.700000000000003" height="9.400000000000006" fill="#cbcbcb"/>
<rect x="85.2" y="191.0" width="9.599999999999994" height="9.400000000000006" fill="#cbcbcb"/>
<rect x="101" y="191.0" width="2.4000000000000057" height="9.400000000000006" fill="#ddd"/>
<rect x="107.75" y="191.0" width="6.25" height="9.400000000000006" fill="#8a8a8a"/>
<rect x="121.7" y="191.0" width="7.700000000000003" height="9.400000000000006" fill="#8a8a8a"/>
<rect x="141" y="191.0" width="7.599999999999994" height="9.400000000000006" fill="#8a8a8a"/>
<rect x="67.4" y="191.0" width="90.1" height="9.400000000000006" fill="none" stroke="#555" stroke-width="1"/>
<text transform="translate(49.89,258.04) rotate(-90)" font-size="10.12" font-weight="bold" fill="#000" textLength="58.98" lengthAdjust="spacingAndGlyphs">Patient # 14</text>
<text x="62.9" y="219.752" font-size="8.2" font-weight="normal" fill="#3c3c3c" text-anchor="start" >4</text>
<text x="62.9" y="232.352" font-size="8.2" font-weight="normal" fill="#3c3c3c" text-anchor="start" >2</text>
<text x="62.9" y="245.352" font-size="8.2" font-weight="normal" fill="#3c3c3c" text-anchor="start" >0</text>
<text x="62.9" y="258.35200000000003" font-size="8.2" font-weight="normal" fill="#3c3c3c" text-anchor="start" >4</text>
<text x="62.9" y="271.252" font-size="8.2" font-weight="normal" fill="#3c3c3c" text-anchor="start" >2</text>
<text x="62.9" y="283.952" font-size="8.2" font-weight="normal" fill="#3c3c3c" text-anchor="start" >0</text>
<line x1="68" y1="217" x2="157.5" y2="217" stroke="#8e8e8e" stroke-width="1.1" stroke-dasharray="1.1,2.05" />
<line x1="68" y1="242.5" x2="157.5" y2="242.5" stroke="#8e8e8e" stroke-width="1.1" stroke-dasharray="1.1,2.05" />
<line x1="68" y1="223.45" x2="157.5" y2="223.45" stroke="#b4b6c4" stroke-width="0.95" stroke-dasharray="4.5,3.2,1.4,3.5" />
<line x1="68" y1="236.2" x2="157.5" y2="236.2" stroke="#b4b6c4" stroke-width="0.95" stroke-dasharray="4.5,3.2,1.4,3.5" />
<polyline points="68.0,229.96 69.5,229.86 71.0,229.74 72.5,229.78 74.0,230.27 75.5,230.25 77.0,229.89 78.5,230.16 80.0,229.58 81.5,229.51 83.0,229.80 84.5,229.73 86.0,229.79 87.5,229.94 89.0,230.50 90.5,229.77 92.0,229.91 93.5,229.96 95.0,229.89 96.5,230.09 98.0,230.26 99.5,229.65 101.0,229.93 102.5,229.85 104.0,229.97 105.5,229.59 107.0,229.55 108.5,229.44 110.0,230.01 111.5,229.94 113.0,229.91 114.5,229.43 116.0,229.83 117.5,231.60 119.0,234.92 120.5,232.95 122.0,230.04 123.5,230.01 125.0,229.90 126.5,230.00 128.0,229.78 129.5,229.91 131.0,229.91 132.5,230.01 134.0,229.89 135.5,229.87 137.0,229.87 138.5,229.77 140.0,230.35 141.5,230.00 143.0,229.99 144.5,230.36 146.0,230.18 147.5,229.59 149.0,230.04 150.5,230.07 152.0,230.28 153.5,230.16 155.0,230.05 156.5,229.66" fill="none" stroke="#f4c2cf" stroke-width="3.6799999999999997" stroke-linejoin="round" opacity="1"/>
<polyline points="68.0,228.90 68.5,230.21 68.9,230.48 69.4,228.73 69.8,229.46 70.3,229.44 70.7,229.97 71.2,230.29 71.6,229.57 72.1,228.48 72.5,231.33 73.0,231.74 73.4,229.78 73.9,231.08 74.3,230.41 74.8,230.66 75.2,230.45 75.7,229.02 76.1,230.56 76.6,231.06 77.0,228.87 77.5,232.16 77.9,232.30 78.4,232.00 78.8,232.19 79.3,230.75 79.7,229.51 80.2,229.21 80.6,228.97 81.1,230.03 81.5,229.86 82.0,230.67 82.4,227.58 82.9,232.56 83.3,232.52 83.8,229.87 84.2,230.68 84.7,230.45 85.1,230.21 85.6,229.66 86.0,229.76 86.5,228.95 86.9,230.10 87.4,229.87 87.8,230.27 88.3,228.92 88.7,229.95 89.2,229.96 89.6,230.59 90.1,228.68 90.5,230.38 91.0,231.03 91.4,230.59 91.9,229.48 92.3,229.34 92.8,229.63 93.2,230.74 93.7,231.69 94.1,229.72 94.6,229.16 95.0,230.33 95.5,230.13 95.9,228.86 96.4,229.05 96.8,229.78 97.3,230.67 97.7,228.53 98.2,228.73 98.6,230.47 99.1,228.49 99.5,230.03 100.0,230.31 100.4,229.77 100.9,228.73 101.3,229.83 101.8,229.52 102.2,230.29 102.7,228.94 103.1,231.16 103.6,227.97 104.0,229.70 104.5,229.91 104.9,231.01 105.4,229.20 105.8,230.53 106.3,229.25 106.7,230.75 107.2,231.90 107.6,229.44 108.1,230.41 108.5,228.83 109.0,231.02 109.4,231.29 109.9,229.94 110.3,228.59 110.8,230.36 111.2,231.22 111.7,231.15 112.1,230.84 112.6,227.79 113.0,229.12 113.5,231.54 113.9,228.49 114.4,231.20 114.8,232.06 115.3,230.78 115.7,231.19 116.2,229.52 116.6,228.49 117.1,230.59 117.5,231.52 118.0,232.73 118.4,234.62 118.9,234.70 119.3,236.12 119.8,235.35 120.2,233.82 120.7,234.90 121.1,232.25 121.6,230.80 122.0,229.66 122.5,229.18 122.9,231.45 123.4,230.07 123.8,228.66 124.3,229.25 124.7,229.74 125.2,229.39 125.6,231.15 126.1,228.56 126.5,230.47 127.0,230.07 127.4,228.55 127.9,229.95 128.3,229.79 128.8,230.48 129.2,229.38 129.7,230.25 130.1,227.98 130.6,228.65 131.0,230.80 131.5,231.10 131.9,229.89 132.4,229.21 132.8,231.15 133.3,227.49 133.7,228.98 134.2,230.67 134.6,230.65 135.1,228.71 135.5,227.73 136.0,231.57 136.4,230.08 136.9,228.87 137.3,229.96 137.8,230.94 138.2,226.92 138.7,231.18 139.1,230.75 139.6,227.51 140.0,230.79 140.5,227.85 140.9,231.21 141.4,230.36 141.8,232.49 142.3,229.20 142.7,229.91 143.2,231.10 143.6,229.16 144.0,229.09 144.5,229.47 144.9,229.82 145.4,228.66 145.8,230.46 146.3,230.52 146.7,229.98 147.2,231.86 147.6,229.52 148.1,231.40 148.5,229.27 149.0,230.77 149.4,227.67 149.9,230.13 150.3,229.70 150.8,229.33 151.2,229.20 151.7,229.50 152.1,229.07 152.6,227.38 153.0,229.21 153.5,229.27 153.9,229.30 154.4,228.68 154.8,229.74 155.3,230.80 155.7,229.61 156.2,229.33 156.6,231.46 157.1,231.02" fill="none" stroke="#de6080" stroke-width="0.65" stroke-linejoin="round" opacity="0.8"/>
<polyline points="68.0,230.27 68.7,230.37 69.4,229.77 70.1,229.85 70.8,230.35 71.5,229.68 72.2,229.85 72.9,230.05 73.6,230.05 74.3,229.79 75.0,230.30 75.7,229.83 76.4,230.19 77.1,230.33 77.8,230.17 78.5,230.20 79.2,229.43 79.9,229.37 80.6,229.65 81.3,230.09 82.0,230.50 82.7,229.41 83.4,230.02 84.1,229.56 84.8,229.61 85.5,229.79 86.2,230.18 86.9,229.99 87.6,230.37 88.3,229.50 89.0,230.26 89.7,230.27 90.4,229.93 91.1,230.09 91.8,229.67 92.5,229.46 93.2,229.74 93.9,229.64 94.6,231.06 95.3,229.70 96.0,230.56 96.7,229.98 97.4,230.03 98.1,230.20 98.8,229.59 99.5,230.27 100.2,230.05 100.9,229.29 101.6,230.14 102.3,230.12 103.0,230.08 103.7,230.54 104.4,229.73 105.1,230.11 105.8,230.20 106.5,229.54 107.2,230.38 107.9,229.32 108.6,229.38 109.3,230.11 110.0,229.46 110.7,229.85 111.4,229.24 112.1,229.93 112.8,229.44 113.5,230.04 114.2,229.28 114.9,230.08 115.6,229.79 116.3,229.93 117.0,230.57 117.7,232.26 118.4,233.29 119.1,234.41 119.8,234.76 120.5,232.75 121.2,231.33 121.9,230.07 122.6,229.10 123.3,229.59 124.0,229.65 124.7,229.47 125.4,230.03 126.1,229.84 126.8,229.57 127.5,229.50 128.2,230.22 128.9,229.63 129.6,230.14 130.3,230.08 131.0,229.14 131.7,229.46 132.4,229.90 133.1,230.04 133.8,230.21 134.5,230.22 135.2,230.32 135.9,229.75 136.6,229.82 137.3,230.21 138.0,229.73 138.7,230.33 139.4,229.26 140.1,230.16 140.8,229.83 141.5,229.11 142.2,230.29 142.9,230.03 143.6,229.91 144.3,229.47 145.0,229.71 145.7,230.51 146.4,229.57 147.1,228.50 147.8,229.56 148.5,229.42 149.2,229.85 149.9,229.74 150.6,229.53 151.3,229.56 152.0,230.32 152.7,229.32 153.4,230.69 154.1,229.68 154.8,229.46 155.5,230.22 156.2,230.13 156.9,229.48" fill="none" stroke="#b01838" stroke-width="1.7249999999999999" stroke-linejoin="round" opacity="1"/>
<line x1="68" y1="255.4" x2="157" y2="255.4" stroke="#8e8e8e" stroke-width="1.1" stroke-dasharray="1.1,2.05" />
<line x1="68" y1="281" x2="157" y2="281" stroke="#8e8e8e" stroke-width="1.1" stroke-dasharray="1.1,2.05" />
<line x1="68" y1="261.85" x2="157" y2="261.85" stroke="#959cc0" stroke-width="0.95" stroke-dasharray="4.5,3.2,1.4,3.5" />
<line x1="68" y1="274.65" x2="157" y2="274.65" stroke="#959cc0" stroke-width="0.95" stroke-dasharray="4.5,3.2,1.4,3.5" />
<polyline points="68.0,268.45 69.0,267.93 70.0,268.12 71.0,268.53 72.0,268.25 73.0,268.04 74.0,268.40 75.0,268.48 76.0,268.30 77.0,267.94 78.0,268.23 79.0,268.38 80.0,268.45 81.0,268.67 82.0,268.25 83.0,268.20 84.0,268.29 85.0,268.54 86.0,268.11 87.0,268.56 88.0,267.75 89.0,268.46 90.0,268.16 91.0,268.39 92.0,268.44 93.0,268.06 94.0,268.28 95.0,268.35 96.0,268.42 97.0,268.11 98.0,268.10 99.0,267.92 100.0,268.81 101.0,268.26 102.0,268.26 103.0,268.00 104.0,268.49 105.0,268.19 106.0,268.59 107.0,268.47 108.0,268.30 109.0,268.45 110.0,268.08 111.0,268.23 112.0,268.18 113.0,268.05 114.0,268.30 115.0,268.27 116.0,270.11 117.0,270.73 118.0,272.10 119.0,272.32 120.0,272.14 121.0,271.48 122.0,269.90 123.0,268.31 124.0,268.21 125.0,268.40 126.0,268.37 127.0,267.93 128.0,268.25 129.0,268.03 130.0,268.06 131.0,268.33 132.0,268.31 133.0,268.32 134.0,268.12 135.0,268.26 136.0,268.12 137.0,268.38 138.0,268.44 139.0,268.65 140.0,268.55 141.0,268.14 142.0,268.21 143.0,268.11 144.0,268.36 145.0,268.70 146.0,268.44 147.0,267.86 148.0,268.05 149.0,268.04 150.0,268.40 151.0,268.30 152.0,268.36 153.0,268.66 154.0,268.13 155.0,268.13 156.0,268.69 157.0,268.37" fill="none" stroke="#2e2e84" stroke-width="1.5" stroke-linejoin="round" opacity="1"/>
<text x="101.74" y="212.89" font-size="9.85" font-weight="bold" fill="#111" textLength="49.53" lengthAdjust="spacingAndGlyphs" >del 270 kb</text>
<rect x="111.7" y="217.0" width="16.299999999999997" height="62.69999999999999" fill="none" stroke="#111" stroke-width="3" stroke-dasharray="6,2.6"/>
<rect x="202.55" y="157.45" width="139.00" height="137.70" fill="#fff" stroke="#8d8d8d" stroke-width="3.3"/>
<line x1="213.3" y1="162" x2="213.3" y2="172" stroke="#bbb" stroke-width="0.6" />
<text x="212.99" y="170.59" font-size="10.95" font-weight="normal" fill="#1a1a1a" textLength="26.71" lengthAdjust="spacingAndGlyphs" stroke="#1a1a1a" stroke-width="0.2">Ch15</text>
<line x1="228.2" y1="182.4" x2="316.8" y2="182.4" stroke="#777" stroke-width="1.1" />
<line x1="233.2" y1="180.8" x2="233.2" y2="183.0" stroke="#777" stroke-width="1.0" />
<line x1="254" y1="180.8" x2="254" y2="183.0" stroke="#777" stroke-width="1.0" />
<line x1="274.3" y1="180.8" x2="274.3" y2="183.0" stroke="#777" stroke-width="1.0" />
<line x1="295.1" y1="180.8" x2="295.1" y2="183.0" stroke="#777" stroke-width="1.0" />
<line x1="316.3" y1="180.8" x2="316.3" y2="183.0" stroke="#777" stroke-width="1.0" />
<text x="228.3" y="178.1" font-size="3.65" font-weight="normal" fill="#222" text-anchor="start" >0</text>
<text x="234.2" y="178.1" font-size="3.65" font-weight="normal" fill="#222" text-anchor="start" >60000000</text>
<text x="255" y="178.1" font-size="3.65" font-weight="normal" fill="#222" text-anchor="start" >70000000</text>
<text x="275.2" y="178.1" font-size="3.65" font-weight="normal" fill="#222" text-anchor="start" >80000000</text>
<text x="296" y="178.1" font-size="3.65" font-weight="normal" fill="#222" text-anchor="start" >90000000</text>
<text x="317.4" y="178.1" font-size="3.65" font-weight="normal" fill="#222" text-anchor="start" >100000000</text>
<rect x="228.2" y="188.3" width="89.30000000000001" height="9.899999999999977" fill="#fff" stroke="none"/>
<rect x="228.6" y="188.3" width="8.099999999999994" height="9.899999999999977" fill="#cfcfcf"/>
<rect x="244.8" y="188.3" width="9.199999999999989" height="9.899999999999977" fill="#cfcfcf"/>
<rect x="261" y="188.3" width="3.3999999999999773" height="9.899999999999977" fill="#ddd"/>
<rect x="266.7" y="188.3" width="6.900000000000034" height="9.899999999999977" fill="#8a8a8a"/>
<rect x="281.2" y="188.3" width="7.400000000000034" height="9.899999999999977" fill="#8a8a8a"/>
<rect x="300.2" y="188.3" width="8.0" height="9.899999999999977" fill="#8a8a8a"/>
<rect x="228.2" y="188.3" width="89.30000000000001" height="9.899999999999977" fill="none" stroke="#555" stroke-width="1"/>
<text transform="translate(219.29,258.87) rotate(-90)" font-size="10.95" font-weight="bold" fill="#000" textLength="61.60" lengthAdjust="spacingAndGlyphs">Patient # 60</text>
<text x="224.7" y="217.552" font-size="8.2" font-weight="normal" fill="#3c3c3c" text-anchor="start" >4</text>
<text x="224.7" y="230.552" font-size="8.2" font-weight="normal" fill="#3c3c3c" text-anchor="start" >2</text>
<text x="224.7" y="243.152" font-size="8.2" font-weight="normal" fill="#3c3c3c" text-anchor="start" >0</text>
<text x="224.7" y="255.752" font-size="8.2" font-weight="normal" fill="#3c3c3c" text-anchor="start" >4</text>
<text x="224.7" y="268.852" font-size="8.2" font-weight="normal" fill="#3c3c3c" text-anchor="start" >2</text>
<text x="224.7" y="281.652" font-size="8.2" font-weight="normal" fill="#3c3c3c" text-anchor="start" >0</text>
<line x1="229.7" y1="214.6" x2="317" y2="214.6" stroke="#8e8e8e" stroke-width="1.1" stroke-dasharray="1.1,2.05" />
<line x1="229.7" y1="240" x2="317" y2="240" stroke="#8e8e8e" stroke-width="1.1" stroke-dasharray="1.1,2.05" />
<line x1="229.7" y1="220.8" x2="317" y2="220.8" stroke="#b4b6c4" stroke-width="0.95" stroke-dasharray="4.5,3.2,1.4,3.5" />
<line x1="229.7" y1="233.5" x2="317" y2="233.5" stroke="#b4b6c4" stroke-width="0.95" stroke-dasharray="4.5,3.2,1.4,3.5" />
<polyline points="229.7,226.84 231.2,226.59 232.7,226.70 234.2,226.51 235.7,227.01 237.2,227.01 238.7,227.20 240.2,226.97 241.7,226.86 243.2,226.85 244.7,227.38 246.2,226.65 247.7,227.03 249.2,227.01 250.7,227.12 252.2,226.92 253.7,227.10 255.2,227.16 256.7,226.97 258.2,226.91 259.7,226.96 261.2,226.81 262.7,226.96 264.2,226.94 265.7,227.04 267.2,227.27 268.7,227.26 270.2,226.91 271.7,227.12 273.2,227.06 274.7,227.15 276.2,227.47 277.7,229.87 279.2,231.75 280.7,229.34 282.2,227.33 283.7,227.26 285.2,227.13 286.7,227.09 288.2,227.05 289.7,226.91 291.2,226.64 292.7,227.13 294.2,227.04 295.7,226.89 297.2,226.81 298.7,227.26 300.2,226.64 301.7,227.35 303.2,227.13 304.7,227.47 306.2,226.86 307.7,227.00 309.2,226.90 310.7,227.03 312.2,226.96 313.7,226.85 315.2,227.21 316.7,226.84" fill="none" stroke="#f4c2cf" stroke-width="3.6799999999999997" stroke-linejoin="round" opacity="1"/>
<polyline points="229.7,226.42 230.1,227.64 230.6,226.38 231.0,226.50 231.5,227.41 231.9,226.58 232.4,225.57 232.8,226.88 233.3,226.75 233.7,228.96 234.2,225.74 234.6,228.11 235.1,226.10 235.5,226.59 236.0,226.62 236.4,227.31 236.9,227.99 237.3,229.01 237.8,226.27 238.2,228.53 238.7,228.14 239.1,227.93 239.6,226.13 240.0,228.04 240.5,226.88 240.9,227.41 241.4,226.69 241.8,227.76 242.3,228.28 242.7,228.30 243.2,226.76 243.6,228.14 244.1,228.67 244.5,225.92 245.0,228.69 245.4,225.46 245.9,227.62 246.3,227.68 246.8,228.71 247.2,227.32 247.7,226.45 248.1,226.08 248.6,225.56 249.0,227.88 249.5,226.73 249.9,226.17 250.4,227.61 250.8,226.12 251.3,226.50 251.7,226.47 252.2,228.90 252.6,228.68 253.1,226.82 253.5,225.19 254.0,227.32 254.4,227.08 254.9,227.40 255.3,227.65 255.8,226.63 256.2,228.06 256.7,227.96 257.1,227.24 257.6,226.53 258.0,226.45 258.5,227.80 258.9,225.74 259.4,226.82 259.8,226.14 260.3,225.40 260.7,227.69 261.2,226.97 261.6,227.04 262.1,228.01 262.5,225.28 263.0,226.92 263.4,227.33 263.9,227.96 264.3,225.75 264.8,227.82 265.2,227.25 265.7,228.56 266.1,228.31 266.6,227.63 267.0,229.47 267.5,227.00 267.9,226.51 268.4,226.61 268.8,225.92 269.3,226.97 269.7,224.84 270.2,226.90 270.6,227.49 271.1,228.14 271.5,226.60 272.0,228.60 272.4,226.25 272.9,226.85 273.3,224.84 273.8,226.12 274.2,226.09 274.7,228.68 275.1,227.60 275.6,225.76 276.0,227.83 276.5,228.48 276.9,228.38 277.4,229.37 277.8,229.70 278.3,230.14 278.7,229.46 279.2,231.74 279.6,232.58 280.1,232.05 280.5,229.42 281.0,228.19 281.4,228.09 281.9,228.63 282.3,227.39 282.8,226.34 283.2,227.41 283.7,226.77 284.1,227.58 284.6,226.54 285.0,225.35 285.5,227.07 285.9,227.85 286.4,225.76 286.8,226.88 287.3,227.98 287.7,226.58 288.2,226.27 288.6,229.28 289.1,227.93 289.5,228.15 290.0,225.94 290.4,228.83 290.9,225.14 291.3,226.42 291.8,227.83 292.2,228.49 292.7,225.96 293.1,226.26 293.6,227.22 294.0,224.84 294.5,227.72 294.9,227.63 295.4,226.50 295.8,227.60 296.3,227.87 296.7,227.35 297.2,227.58 297.6,228.69 298.1,226.47 298.5,227.18 299.0,226.42 299.4,228.15 299.9,226.55 300.3,227.53 300.8,227.15 301.2,227.07 301.7,228.91 302.1,226.91 302.6,228.58 303.0,227.92 303.5,228.47 303.9,226.82 304.4,228.03 304.8,227.84 305.3,226.32 305.7,227.30 306.2,226.86 306.6,226.96 307.1,228.45 307.5,226.20 308.0,225.13 308.4,225.06 308.9,226.50 309.3,226.28 309.8,227.02 310.2,227.63 310.7,228.95 311.1,227.34 311.6,227.51 312.0,226.18 312.5,227.64 312.9,228.51 313.4,228.49 313.8,224.83 314.3,227.99 314.7,228.76 315.2,227.92 315.6,225.34 316.1,226.66 316.5,227.65 317.0,227.46" fill="none" stroke="#de6080" stroke-width="0.65" stroke-linejoin="round" opacity="0.8"/>
<polyline points="229.7,226.69 230.4,226.65 231.1,227.37 231.8,226.48 232.5,227.56 233.2,227.01 233.9,227.12 234.6,226.48 235.3,226.77 236.0,227.27 236.7,226.43 237.4,227.80 238.1,226.46 238.8,226.53 239.5,227.02 240.2,227.19 240.9,227.28 241.6,226.86 242.3,226.92 243.0,226.91 243.7,226.78 244.4,226.00 245.1,227.37 245.8,227.10 246.5,227.06 247.2,226.76 247.9,227.10 248.6,226.99 249.3,226.97 250.0,227.43 250.7,226.33 251.4,227.10 252.1,226.59 252.8,226.88 253.5,227.58 254.2,226.58 254.9,226.96 255.6,226.77 256.3,227.37 257.0,226.62 257.7,226.35 258.4,227.20 259.1,226.86 259.8,226.88 260.5,227.42 261.2,226.66 261.9,226.86 262.6,227.06 263.3,227.16 264.0,226.80 264.7,227.40 265.4,227.87 266.1,226.84 266.8,227.72 267.5,226.18 268.2,227.54 268.9,226.87 269.6,227.05 270.3,226.87 271.0,226.75 271.7,226.51 272.4,226.85 273.1,227.50 273.8,227.44 274.5,226.87 275.2,226.80 275.9,226.73 276.6,227.63 277.3,229.88 278.0,230.54 278.7,231.42 279.4,231.34 280.1,230.04 280.8,229.85 281.5,228.55 282.2,226.79 282.9,227.38 283.6,226.57 284.3,227.25 285.0,226.63 285.7,226.84 286.4,227.19 287.1,227.17 287.8,227.39 288.5,226.68 289.2,227.61 289.9,227.52 290.6,227.00 291.3,227.18 292.0,226.70 292.7,226.94 293.4,226.49 294.1,227.03 294.8,227.08 295.5,227.52 296.2,227.37 296.9,227.31 297.6,226.86 298.3,226.91 299.0,226.87 299.7,227.09 300.4,226.25 301.1,227.30 301.8,226.39 302.5,226.80 303.2,227.01 303.9,226.80 304.6,227.64 305.3,226.96 306.0,227.61 306.7,227.45 307.4,226.81 308.1,227.15 308.8,227.50 309.5,226.87 310.2,227.03 310.9,226.78 311.6,227.02 312.3,226.86 313.0,227.03 313.7,227.39 314.4,227.54 315.1,227.05 315.8,227.08 316.5,227.33" fill="none" stroke="#b01838" stroke-width="1.7249999999999999" stroke-linejoin="round" opacity="1"/>
<line x1="229.7" y1="253.4" x2="317" y2="253.4" stroke="#8e8e8e" stroke-width="1.1" stroke-dasharray="1.1,2.05" />
<line x1="229.7" y1="278.8" x2="317" y2="278.8" stroke="#8e8e8e" stroke-width="1.1" stroke-dasharray="1.1,2.05" />
<line x1="229.7" y1="259.75" x2="317" y2="259.75" stroke="#959cc0" stroke-width="0.95" stroke-dasharray="4.5,3.2,1.4,3.5" />
<line x1="229.7" y1="272.45000000000005" x2="317" y2="272.45000000000005" stroke="#959cc0" stroke-width="0.95" stroke-dasharray="4.5,3.2,1.4,3.5" />
<polyline points="229.7,266.04 230.7,265.90 231.7,266.31 232.7,265.92 233.7,266.28 234.7,265.91 235.7,266.45 236.7,265.90 237.7,266.26 238.7,266.39 239.7,265.92 240.7,266.39 241.7,265.94 242.7,265.76 243.7,266.24 244.7,266.23 245.7,266.06 246.7,265.62 247.7,266.09 248.7,266.04 249.7,266.03 250.7,266.04 251.7,265.76 252.7,265.99 253.7,266.45 254.7,266.40 255.7,266.03 256.7,265.96 257.7,266.18 258.7,266.30 259.7,266.24 260.7,265.88 261.7,266.13 262.7,266.13 263.7,266.38 264.7,266.33 265.7,266.20 266.7,266.33 267.7,266.02 268.7,266.40 269.7,266.02 270.7,266.18 271.7,266.28 272.7,265.92 273.7,265.97 274.7,265.76 275.7,266.71 276.7,268.48 277.7,269.34 278.7,269.94 279.7,269.44 280.7,269.40 281.7,268.51 282.7,266.63 283.7,266.25 284.7,266.44 285.7,266.01 286.7,265.92 287.7,265.98 288.7,266.12 289.7,266.21 290.7,265.93 291.7,266.29 292.7,265.90 293.7,266.26 294.7,266.18 295.7,266.19 296.7,266.51 297.7,266.05 298.7,266.07 299.7,266.19 300.7,266.27 301.7,265.84 302.7,266.15 303.7,265.96 304.7,266.22 305.7,266.36 306.7,266.11 307.7,266.08 308.7,266.14 309.7,265.53 310.7,266.25 311.7,266.21 312.7,266.13 313.7,266.02 314.7,265.96 315.7,266.07 316.7,266.33" fill="none" stroke="#2e2e84" stroke-width="1.5" stroke-linejoin="round" opacity="1"/>
<text x="260.55" y="209.69" font-size="9.30" font-weight="bold" fill="#111" textLength="48.72" lengthAdjust="spacingAndGlyphs" >del 230 kb</text>
<rect x="272.55" y="214.85" width="16.29999999999999" height="62.09999999999997" fill="none" stroke="#111" stroke-width="2.9" stroke-dasharray="6,2.6"/>
<rect x="361.90" y="156.90" width="141.10" height="138.00" fill="#fff" stroke="#8d8d8d" stroke-width="3.4"/>
<text x="366.62" y="172.59" font-size="11.64" font-weight="normal" fill="#1a1a1a" textLength="25.36" lengthAdjust="spacingAndGlyphs" stroke="#1a1a1a" stroke-width="0.2">Ch15</text>
<line x1="392.3" y1="183" x2="481" y2="183" stroke="#777" stroke-width="1.1" />
<line x1="398" y1="181.4" x2="398" y2="183.6" stroke="#777" stroke-width="1.0" />
<line x1="418.3" y1="181.4" x2="418.3" y2="183.6" stroke="#777" stroke-width="1.0" />
<line x1="439.5" y1="181.4" x2="439.5" y2="183.6" stroke="#777" stroke-width="1.0" />
<line x1="460.3" y1="181.4" x2="460.3" y2="183.6" stroke="#777" stroke-width="1.0" />
<line x1="480.6" y1="181.4" x2="480.6" y2="183.6" stroke="#777" stroke-width="1.0" />
<text x="392.5" y="179.6" font-size="3.65" font-weight="normal" fill="#222" text-anchor="start" >0</text>
<text x="398.4" y="179.6" font-size="3.65" font-weight="normal" fill="#222" text-anchor="start" >60000000</text>
<text x="418.7" y="179.6" font-size="3.65" font-weight="normal" fill="#222" text-anchor="start" >70000000</text>
<text x="439.9" y="179.6" font-size="3.65" font-weight="normal" fill="#222" text-anchor="start" >80000000</text>
<text x="460.7" y="179.6" font-size="3.65" font-weight="normal" fill="#222" text-anchor="start" >90000000</text>
<text x="481.2" y="179.6" font-size="3.65" font-weight="normal" fill="#222" text-anchor="start" >100000000</text>
<rect x="392.4" y="189.5" width="88.60000000000002" height="9.300000000000011" fill="#fff" stroke="none"/>
<rect x="393" y="189.5" width="7.800000000000011" height="9.300000000000011" fill="#cfcfcf"/>
<rect x="409.5" y="189.5" width="8.5" height="9.300000000000011" fill="#cfcfcf"/>
<rect x="424.8" y="189.5" width="3.8999999999999773" height="9.300000000000011" fill="#ddd"/>
<rect x="431" y="189.5" width="7.600000000000023" height="9.300000000000011" fill="#8a8a8a"/>
<rect x="446" y="189.5" width="8" height="9.300000000000011" fill="#8a8a8a"/>
<rect x="464.5" y="189.5" width="8.699999999999989" height="9.300000000000011" fill="#8a8a8a"/>
<rect x="392.4" y="189.5" width="88.60000000000002" height="9.300000000000011" fill="none" stroke="#555" stroke-width="1"/>
<text transform="translate(373.39,263.30) rotate(-90)" font-size="12.61" font-weight="bold" fill="#000" textLength="63.74" lengthAdjust="spacingAndGlyphs">Patient # 62</text>
<text x="388.1" y="219.252" font-size="8.2" font-weight="normal" fill="#3c3c3c" text-anchor="start" >4</text>
<text x="388.1" y="231.852" font-size="8.2" font-weight="normal" fill="#3c3c3c" text-anchor="start" >2</text>
<text x="388.1" y="244.652" font-size="8.2" font-weight="normal" fill="#3c3c3c" text-anchor="start" >0</text>
<text x="388.1" y="257.85200000000003" font-size="8.2" font-weight="normal" fill="#3c3c3c" text-anchor="start" >4</text>
<text x="388.1" y="270.952" font-size="8.2" font-weight="normal" fill="#3c3c3c" text-anchor="start" >2</text>
<text x="388.1" y="283.252" font-size="8.2" font-weight="normal" fill="#3c3c3c" text-anchor="start" >0</text>
<line x1="392.5" y1="215.9" x2="481.5" y2="215.9" stroke="#8e8e8e" stroke-width="1.1" stroke-dasharray="1.1,2.05" />
<line x1="392.5" y1="242.3" x2="481.5" y2="242.3" stroke="#8e8e8e" stroke-width="1.1" stroke-dasharray="1.1,2.05" />
<line x1="392.5" y1="222.7" x2="481.5" y2="222.7" stroke="#b4b6c4" stroke-width="0.95" stroke-dasharray="4.5,3.2,1.4,3.5" />
<line x1="392.5" y1="235.9" x2="481.5" y2="235.9" stroke="#b4b6c4" stroke-width="0.95" stroke-dasharray="4.5,3.2,1.4,3.5" />
<polyline points="392.5,229.48 394.0,229.76 395.5,229.01 397.0,229.41 398.5,229.55 400.0,229.50 401.5,229.18 403.0,229.37 404.5,229.74 406.0,229.25 407.5,229.31 409.0,229.29 410.5,229.39 412.0,229.62 413.5,229.61 415.0,229.11 416.5,229.78 418.0,229.39 419.5,229.39 421.0,229.82 422.5,229.48 424.0,229.26 425.5,229.38 427.0,229.36 428.5,229.31 430.0,229.44 431.5,229.67 433.0,229.57 434.5,229.23 436.0,230.04 437.5,229.31 439.0,229.52 440.5,229.64 442.0,231.87 443.5,233.74 445.0,233.20 446.5,231.43 448.0,229.52 449.5,229.29 451.0,229.56 452.5,229.35 454.0,229.43 455.5,229.54 457.0,229.56 458.5,229.45 460.0,229.66 461.5,229.46 463.0,229.25 464.5,229.67 466.0,229.43 467.5,229.73 469.0,229.37 470.5,229.61 472.0,229.56 473.5,228.98 475.0,229.21 476.5,229.29 478.0,229.77 479.5,229.14 481.0,229.68" fill="none" stroke="#f4c2cf" stroke-width="3.6799999999999997" stroke-linejoin="round" opacity="1"/>
<polyline points="392.5,230.71 392.9,230.05 393.4,230.24 393.8,228.95 394.3,229.49 394.7,229.75 395.2,229.96 395.6,230.28 396.1,229.27 396.5,228.73 397.0,228.88 397.4,229.95 397.9,227.67 398.3,228.12 398.8,229.05 399.2,228.89 399.7,229.20 400.1,226.56 400.6,229.12 401.0,229.22 401.5,230.36 401.9,227.31 402.4,229.16 402.8,230.02 403.3,230.04 403.7,230.82 404.2,230.67 404.6,228.34 405.1,230.20 405.5,229.13 406.0,228.61 406.4,231.19 406.9,228.80 407.3,228.56 407.8,229.05 408.2,228.56 408.7,230.61 409.1,229.92 409.6,231.05 410.0,229.95 410.5,228.82 410.9,230.66 411.4,228.78 411.8,228.99 412.3,229.31 412.7,229.54 413.2,230.82 413.6,228.83 414.1,229.89 414.5,229.47 415.0,228.11 415.4,228.29 415.9,229.26 416.3,229.95 416.8,229.85 417.2,230.03 417.7,229.55 418.1,229.00 418.6,229.97 419.0,228.39 419.5,228.01 419.9,229.13 420.4,227.92 420.8,228.93 421.3,228.67 421.7,228.89 422.2,229.45 422.6,228.61 423.1,229.03 423.5,227.60 424.0,229.66 424.4,228.52 424.9,229.95 425.3,226.37 425.8,228.61 426.2,229.77 426.7,226.79 427.1,229.10 427.6,229.60 428.0,229.61 428.5,227.84 428.9,229.75 429.4,229.67 429.8,228.42 430.3,230.33 430.7,229.45 431.2,229.52 431.6,229.00 432.1,230.11 432.5,229.61 433.0,230.76 433.4,230.00 433.9,228.81 434.3,229.25 434.8,230.52 435.2,229.09 435.7,229.92 436.1,230.08 436.6,229.30 437.0,226.91 437.5,229.65 437.9,229.74 438.4,229.65 438.8,228.66 439.3,230.84 439.7,229.35 440.2,228.81 440.6,229.05 441.1,230.87 441.5,229.88 442.0,230.61 442.4,234.57 442.9,234.43 443.3,234.77 443.8,235.74 444.2,234.81 444.7,231.65 445.1,234.23 445.6,233.66 446.0,232.20 446.5,228.85 446.9,231.79 447.4,231.30 447.8,228.95 448.3,229.64 448.7,230.36 449.2,229.41 449.6,230.72 450.1,229.59 450.5,230.27 451.0,229.59 451.4,227.85 451.9,228.39 452.3,233.03 452.8,229.81 453.2,230.96 453.7,230.77 454.1,231.41 454.6,230.12 455.0,228.84 455.5,229.52 455.9,227.36 456.4,229.29 456.8,230.51 457.3,227.09 457.7,229.72 458.2,230.42 458.6,230.98 459.1,228.47 459.5,228.77 460.0,227.41 460.4,228.36 460.9,230.10 461.3,231.81 461.8,228.22 462.2,231.04 462.7,229.98 463.1,228.95 463.6,231.95 464.0,226.69 464.5,229.42 464.9,229.74 465.4,231.88 465.8,231.51 466.3,232.03 466.7,229.65 467.2,230.60 467.6,231.02 468.1,230.07 468.5,229.90 469.0,229.29 469.4,229.04 469.9,228.13 470.3,231.68 470.8,229.00 471.2,227.18 471.7,229.80 472.1,229.46 472.6,229.70 473.0,231.53 473.5,229.38 473.9,229.20 474.4,228.67 474.8,229.47 475.3,229.01 475.7,229.73 476.2,232.99 476.6,229.94 477.1,228.54 477.5,231.66 478.0,230.47 478.4,230.41 478.9,230.30 479.3,230.42 479.8,230.25 480.2,231.08 480.7,230.63 481.1,231.01" fill="none" stroke="#de6080" stroke-width="0.65" stroke-linejoin="round" opacity="0.8"/>
<polyline points="392.5,229.30 393.2,229.50 393.9,229.21 394.6,229.88 395.3,229.83 396.0,229.32 396.7,229.73 397.4,230.53 398.1,229.98 398.8,229.06 399.5,229.46 400.2,229.75 400.9,229.49 401.6,229.65 402.3,229.96 403.0,229.63 403.7,229.07 404.4,229.78 405.1,229.46 405.8,229.54 406.5,229.28 407.2,228.96 407.9,229.01 408.6,229.36 409.3,229.08 410.0,228.44 410.7,229.95 411.4,229.04 412.1,229.22 412.8,229.71 413.5,228.56 414.2,230.03 414.9,229.20 415.6,229.76 416.3,229.31 417.0,229.62 417.7,229.54 418.4,229.50 419.1,228.78 419.8,228.92 420.5,229.48 421.2,230.05 421.9,229.29 422.6,229.71 423.3,229.56 424.0,229.69 424.7,229.89 425.4,228.91 426.1,229.61 426.8,229.43 427.5,229.38 428.2,229.17 428.9,229.19 429.6,229.10 430.3,229.07 431.0,230.48 431.7,230.17 432.4,229.50 433.1,229.79 433.8,229.12 434.5,228.41 435.2,228.79 435.9,229.56 436.6,230.06 437.3,229.48 438.0,229.11 438.7,229.41 439.4,229.11 440.1,228.95 440.8,229.96 441.5,230.87 442.2,231.68 442.9,232.62 443.6,233.58 444.3,234.18 445.0,233.66 445.7,232.06 446.4,232.04 447.1,229.56 447.8,229.61 448.5,229.05 449.2,229.44 449.9,229.54 450.6,229.72 451.3,229.94 452.0,229.28 452.7,229.01 453.4,229.43 454.1,229.62 454.8,229.23 455.5,229.85 456.2,230.16 456.9,228.94 457.6,229.64 458.3,229.90 459.0,228.75 459.7,229.58 460.4,229.41 461.1,228.94 461.8,230.02 462.5,229.59 463.2,229.31 463.9,229.67 464.6,229.75 465.3,229.80 466.0,229.73 466.7,229.66 467.4,229.04 468.1,229.33 468.8,229.55 469.5,228.41 470.2,230.34 470.9,229.35 471.6,229.09 472.3,228.79 473.0,229.60 473.7,229.51 474.4,229.27 475.1,229.34 475.8,229.15 476.5,229.21 477.2,229.46 477.9,229.25 478.6,229.77 479.3,229.44 480.0,229.55 480.7,229.66 481.4,230.00" fill="none" stroke="#b01838" stroke-width="1.7249999999999999" stroke-linejoin="round" opacity="1"/>
<line x1="392.5" y1="255.4" x2="481.5" y2="255.4" stroke="#8e8e8e" stroke-width="1.1" stroke-dasharray="1.1,2.05" />
<line x1="392.5" y1="281.1" x2="481.5" y2="281.1" stroke="#8e8e8e" stroke-width="1.1" stroke-dasharray="1.1,2.05" />
<line x1="392.5" y1="261.6" x2="481.5" y2="261.6" stroke="#959cc0" stroke-width="0.95" stroke-dasharray="4.5,3.2,1.4,3.5" />
<line x1="392.5" y1="274.45000000000005" x2="481.5" y2="274.45000000000005" stroke="#959cc0" stroke-width="0.95" stroke-dasharray="4.5,3.2,1.4,3.5" />
<polyline points="392.5,267.92 393.5,267.84 394.5,267.77 395.5,267.64 396.5,267.73 397.5,267.93 398.5,267.84 399.5,267.72 400.5,267.54 401.5,267.50 402.5,267.86 403.5,268.00 404.5,267.87 405.5,267.53 406.5,267.76 407.5,267.84 408.5,267.62 409.5,267.87 410.5,267.76 411.5,267.64 412.5,267.56 413.5,267.96 414.5,267.87 415.5,267.63 416.5,267.60 417.5,267.97 418.5,267.92 419.5,267.74 420.5,268.11 421.5,267.74 422.5,267.59 423.5,268.01 424.5,267.76 425.5,267.87 426.5,267.81 427.5,267.60 428.5,267.57 429.5,267.76 430.5,268.07 431.5,267.60 432.5,268.06 433.5,267.84 434.5,267.58 435.5,267.85 436.5,267.91 437.5,267.62 438.5,267.39 439.5,267.87 440.5,269.82 441.5,271.41 442.5,271.77 443.5,272.56 444.5,272.54 445.5,272.16 446.5,271.81 447.5,270.91 448.5,269.17 449.5,267.57 450.5,267.84 451.5,267.46 452.5,267.90 453.5,267.90 454.5,268.13 455.5,267.97 456.5,267.87 457.5,267.85 458.5,267.81 459.5,267.54 460.5,268.08 461.5,267.90 462.5,267.74 463.5,267.58 464.5,268.09 465.5,267.90 466.5,267.57 467.5,267.93 468.5,268.17 469.5,267.80 470.5,267.88 471.5,267.72 472.5,267.68 473.5,268.01 474.5,268.40 475.5,267.82 476.5,267.78 477.5,267.95 478.5,267.74 479.5,267.94 480.5,267.96 481.5,267.60" fill="none" stroke="#2e2e84" stroke-width="1.5" stroke-linejoin="round" opacity="1"/>
<text x="424.54" y="211.89" font-size="9.02" font-weight="bold" fill="#111" textLength="49.33" lengthAdjust="spacingAndGlyphs" >del 330 kb</text>
<rect x="434.5" y="217.3" width="17.100000000000023" height="63.80000000000001" fill="none" stroke="#111" stroke-width="3" stroke-dasharray="6,2.6"/>
<rect x="35.45" y="319.95" width="111.30" height="131.80" fill="#fff" stroke="#8d8d8d" stroke-width="3.5"/>
<text x="44.11" y="332.09" font-size="10.95" font-weight="normal" fill="#1a1a1a" textLength="25.73" lengthAdjust="spacingAndGlyphs" stroke="#1a1a1a" stroke-width="0.2">Ch19</text>
<line x1="66.6" y1="343.6" x2="129.4" y2="343.6" stroke="#666" stroke-width="1.1" />
<line x1="72.2" y1="342.0" x2="72.2" y2="344.20000000000005" stroke="#666" stroke-width="1.0" />
<line x1="90.9" y1="342.0" x2="90.9" y2="344.20000000000005" stroke="#666" stroke-width="1.0" />
<line x1="109.6" y1="342.0" x2="109.6" y2="344.20000000000005" stroke="#666" stroke-width="1.0" />
<line x1="128.4" y1="342.0" x2="128.4" y2="344.20000000000005" stroke="#666" stroke-width="1.0" />
<text x="66.8" y="340.20000000000005" font-size="3.65" font-weight="normal" fill="#222" text-anchor="start" >0</text>
<text x="72.7" y="340.20000000000005" font-size="3.65" font-weight="normal" fill="#222" text-anchor="start" >30000000</text>
<text x="91" y="340.20000000000005" font-size="3.65" font-weight="normal" fill="#222" text-anchor="start" >40000000</text>
<text x="110" y="340.20000000000005" font-size="3.65" font-weight="normal" fill="#222" text-anchor="start" >54000000</text>
<text x="128" y="340.20000000000005" font-size="3.65" font-weight="normal" fill="#222" text-anchor="start" >61000000</text>
<line x1="72.2" y1="342" x2="72.2" y2="344.6" stroke="#c04040" stroke-width="1" />
<rect x="66.7" y="349.4" width="63.499999999999986" height="10.100000000000023" fill="#fff" stroke="none"/>
<rect x="67" y="349.4" width="7.099999999999994" height="10.100000000000023" fill="#d42222"/>
<rect x="80.8" y="349.4" width="6.1000000000000085" height="10.100000000000023" fill="#c6c6c6"/>
<rect x="86.9" y="349.4" width="1.2999999999999972" height="10.100000000000023" fill="#e0e0e0"/>
<rect x="88.2" y="349.4" width="8.099999999999994" height="10.100000000000023" fill="#c6c6c6"/>
<rect x="102.4" y="349.4" width="6.0" height="10.100000000000023" fill="#c8c8c8"/>
<rect x="113.8" y="349.4" width="4.700000000000003" height="10.100000000000023" fill="#c8c8c8"/>
<rect x="123.9" y="349.4" width="6.099999999999994" height="10.100000000000023" fill="#cccccc"/>
<rect x="66.7" y="349.4" width="63.499999999999986" height="10.100000000000023" fill="none" stroke="#999" stroke-width="1"/>
<line x1="55.5" y1="364.6" x2="55.5" y2="439" stroke="#c8c8c8" stroke-width="1" />
<text transform="translate(51.29,419.27) rotate(-90)" font-size="11.37" font-weight="bold" fill="#000" textLength="61.61" lengthAdjust="spacingAndGlyphs">Patient # 24</text>
<text x="62.9" y="372.236" font-size="7.6" font-weight="normal" fill="#666" text-anchor="start" >4</text>
<text x="62.9" y="386.036" font-size="7.6" font-weight="normal" fill="#666" text-anchor="start" >2</text>
<text x="62.9" y="398.336" font-size="7.6" font-weight="normal" fill="#666" text-anchor="start" >C</text>
<text x="62.9" y="411.736" font-size="7.6" font-weight="normal" fill="#666" text-anchor="start" >4</text>
<text x="62.9" y="424.436" font-size="7.6" font-weight="normal" fill="#666" text-anchor="start" >2</text>
<text x="62.9" y="437.536" font-size="7.6" font-weight="normal" fill="#666" text-anchor="start" >C</text>
<line x1="66.8" y1="375.4" x2="130.7" y2="375.4" stroke="#8e8e8e" stroke-width="1.1" stroke-dasharray="1.1,2.05" />
<line x1="66.8" y1="401.5" x2="130.7" y2="401.5" stroke="#8e8e8e" stroke-width="1.1" stroke-dasharray="1.1,2.05" />
<line x1="66.8" y1="382.0" x2="130.7" y2="382.0" stroke="#c0c2cc" stroke-width="0.95" stroke-dasharray="4.5,3.2,1.4,3.5" />
<line x1="66.8" y1="395.05" x2="130.7" y2="395.05" stroke="#c0c2cc" stroke-width="0.95" stroke-dasharray="4.5,3.2,1.4,3.5" />
<polyline points="66.8,388.39 68.3,388.59 69.8,388.76 71.3,388.65 72.8,388.84 74.3,388.33 75.8,388.70 77.3,388.48 78.8,388.62 80.3,388.66 81.8,388.41 83.3,388.56 84.8,388.37 86.3,388.65 87.8,388.43 89.3,388.50 90.8,388.64 92.3,388.47 93.8,388.82 95.3,388.48 96.8,388.76 98.3,388.65 99.8,388.40 101.3,388.56 102.8,388.44 104.3,388.53 105.8,388.55 107.3,388.95 108.8,388.52 110.3,388.90 111.8,388.69 113.3,388.35 114.8,388.15 116.3,388.73 117.8,388.21 119.3,388.74 120.8,388.80 122.3,388.68 123.8,388.56 125.3,388.55 126.8,388.65 128.3,388.54 129.8,388.50" fill="none" stroke="#f4c2cf" stroke-width="3.6799999999999997" stroke-linejoin="round" opacity="1"/>
<polyline points="66.8,388.19 67.2,389.90 67.7,387.91 68.2,389.02 68.6,387.32 69.1,387.81 69.5,387.07 70.0,388.38 70.4,389.36 70.9,388.94 71.3,388.05 71.8,389.28 72.2,388.21 72.7,389.01 73.1,388.90 73.6,389.20 74.0,385.84 74.5,387.15 74.9,389.46 75.4,388.48 75.8,391.10 76.3,388.34 76.7,387.99 77.2,390.26 77.6,389.22 78.1,390.71 78.5,389.17 79.0,388.37 79.4,389.41 79.9,387.72 80.3,388.10 80.8,387.98 81.2,388.35 81.7,389.47 82.1,388.06 82.6,388.96 83.0,388.05 83.5,389.58 83.9,385.53 84.4,388.37 84.8,388.79 85.3,387.40 85.7,389.73 86.2,388.84 86.6,390.02 87.1,389.67 87.5,389.31 88.0,388.43 88.4,387.39 88.9,388.36 89.3,388.09 89.8,388.88 90.2,388.08 90.7,392.00 91.1,386.82 91.6,389.91 92.0,388.08 92.5,388.33 92.9,389.63 93.4,388.60 93.8,387.25 94.3,389.06 94.7,388.38 95.2,386.31 95.6,388.82 96.1,387.43 96.5,387.77 97.0,389.14 97.4,388.93 97.9,388.28 98.3,391.01 98.8,389.07 99.2,387.92 99.7,388.86 100.1,388.47 100.6,386.15 101.0,386.85 101.5,387.06 101.9,390.89 102.4,388.40 102.8,388.29 103.3,387.97 103.7,389.69 104.2,388.63 104.6,390.49 105.1,389.48 105.5,390.43 106.0,388.47 106.4,389.02 106.9,388.12 107.3,388.41 107.8,386.68 108.2,387.96 108.7,387.54 109.1,387.88 109.6,389.95 110.0,388.89 110.5,389.96 110.9,389.55 111.4,389.62 111.8,389.71 112.3,387.93 112.7,389.49 113.2,388.24 113.6,388.01 114.1,389.92 114.5,391.00 115.0,387.52 115.4,390.53 115.9,389.52 116.3,387.66 116.8,388.90 117.2,389.01 117.7,389.02 118.1,388.20 118.6,387.18 119.0,388.63 119.5,389.55 119.9,389.47 120.4,389.33 120.8,389.82 121.3,387.50 121.7,388.55 122.2,388.98 122.6,389.71 123.1,388.77 123.5,389.17 124.0,388.75 124.4,390.93 124.9,386.18 125.3,388.57 125.8,391.34 126.2,388.86 126.7,386.57 127.1,388.75 127.6,387.01 128.0,387.85 128.5,388.85 128.9,390.50 129.4,389.11 129.8,389.34 130.3,389.73" fill="none" stroke="#de6080" stroke-width="0.65" stroke-linejoin="round" opacity="0.8"/>
<polyline points="66.8,388.68 67.5,388.27 68.2,388.56 68.9,388.73 69.6,388.49 70.3,388.34 71.0,388.46 71.7,388.02 72.4,388.20 73.1,388.56 73.8,388.46 74.5,388.61 75.2,389.14 75.9,388.72 76.6,388.59 77.3,388.15 78.0,388.18 78.7,388.75 79.4,388.26 80.1,388.77 80.8,388.18 81.5,388.65 82.2,388.57 82.9,388.99 83.6,388.45 84.3,388.46 85.0,388.70 85.7,388.62 86.4,389.25 87.1,388.50 87.8,388.39 88.5,388.48 89.2,388.78 89.9,388.69 90.6,388.87 91.3,388.06 92.0,389.56 92.7,389.31 93.4,388.59 94.1,388.13 94.8,388.66 95.5,388.76 96.2,387.74 96.9,388.61 97.6,388.03 98.3,388.78 99.0,389.14 99.7,389.00 100.4,388.02 101.1,389.14 101.8,388.95 102.5,388.46 103.2,388.79 103.9,389.19 104.6,388.47 105.3,388.59 106.0,388.38 106.7,389.05 107.4,387.77 108.1,389.15 108.8,388.23 109.5,388.96 110.2,387.97 110.9,388.24 111.6,388.37 112.3,388.92 113.0,387.97 113.7,388.83 114.4,388.35 115.1,389.08 115.8,388.48 116.5,388.79 117.2,388.53 117.9,389.29 118.6,388.46 119.3,388.59 120.0,389.37 120.7,388.63 121.4,388.87 122.1,388.31 122.8,388.68 123.5,387.72 124.2,388.64 124.9,388.35 125.6,388.02 126.3,388.05 127.0,389.04 127.7,388.77 128.4,388.01 129.1,389.30 129.8,388.33 130.5,388.46" fill="none" stroke="#b01838" stroke-width="1.7249999999999999" stroke-linejoin="round" opacity="1"/>
<line x1="66.8" y1="414.4" x2="130.7" y2="414.4" stroke="#8e8e8e" stroke-width="1.1" stroke-dasharray="1.1,2.05" />
<line x1="66.8" y1="440.7" x2="130.7" y2="440.7" stroke="#8e8e8e" stroke-width="1.1" stroke-dasharray="1.1,2.05" />
<line x1="66.8" y1="421.0" x2="130.7" y2="421.0" stroke="#b8bccc" stroke-width="0.95" stroke-dasharray="4.5,3.2,1.4,3.5" />
<line x1="66.8" y1="434.15" x2="130.7" y2="434.15" stroke="#b8bccc" stroke-width="0.95" stroke-dasharray="4.5,3.2,1.4,3.5" />
<polyline points="66.8,427.65 67.8,427.38 68.8,427.29 69.8,427.46 70.8,427.83 71.8,427.78 72.8,427.30 73.8,427.83 74.8,427.61 75.8,427.70 76.8,427.61 77.8,427.68 78.8,427.41 79.8,427.43 80.8,427.46 81.8,427.53 82.8,427.72 83.8,427.37 84.8,427.91 85.8,427.48 86.8,427.49 87.8,427.74 88.8,427.68 89.8,427.53 90.8,427.39 91.8,427.41 92.8,427.29 93.8,427.82 94.8,427.81 95.8,427.96 96.8,427.70 97.8,427.66 98.8,427.75 99.8,427.78 100.8,427.55 101.8,427.67 102.8,428.01 103.8,427.27 104.8,427.33 105.8,427.41 106.8,427.75 107.8,427.83 108.8,427.53 109.8,427.73 110.8,427.59 111.8,427.66 112.8,427.50 113.8,427.59 114.8,427.60 115.8,427.82 116.8,428.03 117.8,427.25 118.8,427.70 119.8,427.60 120.8,427.79 121.8,427.80 122.8,427.75 123.8,427.76 124.8,427.42 125.8,427.27 126.8,427.92 127.8,427.83 128.8,427.42 129.8,427.85" fill="none" stroke="#2e2e84" stroke-width="1.2" stroke-linejoin="round" opacity="1"/>
<text x="92.51" y="372.39" font-size="9.62" font-weight="bold" fill="#111" textLength="14.28" lengthAdjust="spacingAndGlyphs" >ND</text>
<rect x="89.3" y="375.5" width="16.300000000000004" height="64.6" fill="none" stroke="#111" stroke-width="2.4" stroke-dasharray="6,2.6"/>
<rect x="165.25" y="319.95" width="113.80" height="131.80" fill="#fff" stroke="#8d8d8d" stroke-width="3.5"/>
<line x1="171.4" y1="323.8" x2="171.4" y2="332.6" stroke="#bbb" stroke-width="0.6" />
<text x="172.62" y="331.99" font-size="11.92" font-weight="normal" fill="#1a1a1a" textLength="25.42" lengthAdjust="spacingAndGlyphs" stroke="#1a1a1a" stroke-width="0.2">Ch19</text>
<line x1="199.9" y1="343.1" x2="263.2" y2="343.1" stroke="#444" stroke-width="1.1" />
<line x1="205" y1="341.5" x2="205" y2="343.70000000000005" stroke="#444" stroke-width="1.0" />
<line x1="223.7" y1="341.5" x2="223.7" y2="343.70000000000005" stroke="#444" stroke-width="1.0" />
<line x1="243.1" y1="341.5" x2="243.1" y2="343.70000000000005" stroke="#444" stroke-width="1.0" />
<line x1="262.5" y1="341.5" x2="262.5" y2="343.70000000000005" stroke="#444" stroke-width="1.0" />
<text x="200" y="339.70000000000005" font-size="3.65" font-weight="normal" fill="#222" text-anchor="start" >0</text>
<text x="205.4" y="339.70000000000005" font-size="3.65" font-weight="normal" fill="#222" text-anchor="start" >30000000</text>
<text x="223.9" y="339.70000000000005" font-size="3.65" font-weight="normal" fill="#222" text-anchor="start" >40000000</text>
<text x="243.2" y="339.70000000000005" font-size="3.65" font-weight="normal" fill="#222" text-anchor="start" >54000000</text>
<text x="261.2" y="339.70000000000005" font-size="3.65" font-weight="normal" fill="#222" text-anchor="start" >61000000</text>
<rect x="199.9" y="349.7" width="63.99999999999997" height="9.699999999999989" fill="#fff" stroke="none"/>
<rect x="200.2" y="349.7" width="6.900000000000006" height="9.699999999999989" fill="#d42222"/>
<rect x="214" y="349.7" width="6.199999999999989" height="9.699999999999989" fill="#c6c6c6"/>
<rect x="220.2" y="349.7" width="1.4000000000000057" height="9.699999999999989" fill="#e0e0e0"/>
<rect x="221.6" y="349.7" width="8.400000000000006" height="9.699999999999989" fill="#c6c6c6"/>
<rect x="235.5" y="349.7" width="6.199999999999989" height="9.699999999999989" fill="#c8c8c8"/>
<rect x="246.6" y="349.7" width="5.5" height="9.699999999999989" fill="#c8c8c8"/>
<rect x="257.6" y="349.7" width="4.899999999999977" height="9.699999999999989" fill="#dddddd"/>
<rect x="199.9" y="349.7" width="63.99999999999997" height="9.699999999999989" fill="none" stroke="#777" stroke-width="1"/>
<text transform="translate(182.49,422.38) rotate(-90)" font-size="11.37" font-weight="bold" fill="#000" textLength="62.01" lengthAdjust="spacingAndGlyphs">Patient # 72</text>
<text x="195.6" y="381.63599999999997" font-size="7.6" font-weight="normal" fill="#505050" text-anchor="start" >4</text>
<text x="195.6" y="393.936" font-size="7.6" font-weight="normal" fill="#505050" text-anchor="start" >2</text>
<text x="195.6" y="406.936" font-size="7.6" font-weight="normal" fill="#505050" text-anchor="start" >0</text>
<text x="195.6" y="419.736" font-size="7.6" font-weight="normal" fill="#505050" text-anchor="start" >4</text>
<text x="195.6" y="432.736" font-size="7.6" font-weight="normal" fill="#505050" text-anchor="start" >2</text>
<text x="195.6" y="445.036" font-size="7.6" font-weight="normal" fill="#505050" text-anchor="start" >0</text>
<line x1="199.7" y1="378.6" x2="262.8" y2="378.6" stroke="#8e8e8e" stroke-width="1.1" stroke-dasharray="1.1,2.05" />
<line x1="199.7" y1="404.8" x2="262.8" y2="404.8" stroke="#8e8e8e" stroke-width="1.1" stroke-dasharray="1.1,2.05" />
<line x1="199.7" y1="384.5" x2="262.8" y2="384.5" stroke="#c0c2cc" stroke-width="0.95" stroke-dasharray="4.5,3.2,1.4,3.5" />
<line x1="199.7" y1="397.6" x2="262.8" y2="397.6" stroke="#c0c2cc" stroke-width="0.95" stroke-dasharray="4.5,3.2,1.4,3.5" />
<polyline points="199.7,390.53 201.2,389.93 202.7,390.57 204.2,390.21 205.7,390.62 207.2,390.27 208.7,390.26 210.2,390.10 211.7,390.36 213.2,390.60 214.7,390.27 216.2,390.04 217.7,390.81 219.2,390.76 220.7,390.53 222.2,390.30 223.7,390.17 225.2,390.08 226.7,390.51 228.2,391.98 229.7,391.36 231.2,390.40 232.7,390.35 234.2,390.35 235.7,390.50 237.2,390.80 238.7,390.28 240.2,390.56 241.7,390.61 243.2,390.35 244.7,390.37 246.2,390.14 247.7,390.61 249.2,390.30 250.7,390.27 252.2,390.41 253.7,390.23 255.2,390.20 256.7,390.34 258.2,390.69 259.7,390.36 261.2,390.50 262.7,390.12" fill="none" stroke="#f4c2cf" stroke-width="3.6799999999999997" stroke-linejoin="round" opacity="1"/>
<polyline points="199.7,388.24 200.1,392.42 200.6,389.96 201.0,388.69 201.5,390.28 201.9,391.07 202.4,388.49 202.8,389.42 203.3,390.69 203.7,389.38 204.2,391.28 204.6,391.47 205.1,390.89 205.5,389.92 206.0,390.35 206.4,389.70 206.9,390.26 207.3,390.75 207.8,390.07 208.2,391.48 208.7,393.28 209.1,389.79 209.6,390.78 210.0,391.31 210.5,391.12 210.9,390.14 211.4,389.87 211.8,391.51 212.3,391.09 212.7,390.96 213.2,389.51 213.6,391.10 214.1,391.28 214.5,390.19 215.0,391.12 215.4,392.81 215.9,388.32 216.3,391.07 216.8,389.10 217.2,388.88 217.7,390.14 218.1,391.01 218.6,390.46 219.0,389.10 219.5,388.80 219.9,389.78 220.4,390.42 220.8,389.48 221.3,388.73 221.7,392.35 222.2,389.47 222.6,390.23 223.1,389.79 223.5,389.75 224.0,390.44 224.4,390.07 224.9,391.09 225.3,389.08 225.8,388.75 226.2,392.57 226.7,390.32 227.1,391.25 227.6,392.05 228.0,392.10 228.5,392.27 228.9,391.09 229.4,390.28 229.8,392.41 230.3,391.32 230.7,391.03 231.2,388.55 231.6,388.03 232.1,389.22 232.5,389.08 233.0,390.58 233.4,389.26 233.9,392.16 234.3,389.71 234.8,389.77 235.2,391.36 235.7,390.77 236.1,389.40 236.6,391.32 237.0,392.54 237.5,389.03 237.9,390.12 238.4,389.20 238.8,388.23 239.3,391.10 239.7,391.18 240.2,391.49 240.6,390.88 241.1,388.15 241.5,390.37 242.0,389.65 242.4,389.09 242.9,389.16 243.3,391.25 243.8,390.07 244.2,392.60 244.7,390.93 245.1,388.27 245.6,391.40 246.0,391.80 246.5,390.44 246.9,389.05 247.4,392.38 247.8,388.93 248.3,390.31 248.7,388.27 249.2,389.00 249.6,388.50 250.1,391.62 250.5,391.72 251.0,389.95 251.4,388.88 251.9,390.33 252.3,390.82 252.8,388.69 253.2,389.10 253.7,390.29 254.1,391.19 254.6,390.48 255.0,390.90 255.5,389.00 255.9,387.61 256.4,390.75 256.8,389.37 257.3,390.26 257.7,389.98 258.2,390.94 258.6,389.53 259.1,392.02 259.5,390.43 260.0,390.99 260.4,391.11 260.9,391.56 261.3,390.85 261.8,388.44 262.2,389.69 262.7,392.49" fill="none" stroke="#de6080" stroke-width="0.65" stroke-linejoin="round" opacity="0.8"/>
<polyline points="199.7,390.59 200.4,390.62 201.1,390.58 201.8,390.15 202.5,390.13 203.2,390.15 203.9,390.86 204.6,390.54 205.3,391.10 206.0,390.60 206.7,391.14 207.4,390.58 208.1,389.93 208.8,391.09 209.5,390.53 210.2,390.87 210.9,390.48 211.6,390.27 212.3,390.47 213.0,389.96 213.7,389.93 214.4,390.05 215.1,390.19 215.8,389.86 216.5,390.36 217.2,390.52 217.9,391.20 218.6,391.13 219.3,390.38 220.0,390.75 220.7,390.31 221.4,390.55 222.1,390.39 222.8,390.19 223.5,390.43 224.2,389.82 224.9,390.57 225.6,390.29 226.3,389.97 227.0,390.26 227.7,391.12 228.4,391.80 229.1,392.75 229.8,391.63 230.5,391.02 231.2,389.97 231.9,390.36 232.6,390.60 233.3,390.99 234.0,390.50 234.7,390.70 235.4,389.82 236.1,390.17 236.8,391.06 237.5,390.29 238.2,391.26 238.9,390.11 239.6,390.29 240.3,389.77 241.0,390.65 241.7,390.50 242.4,391.20 243.1,390.47 243.8,390.30 244.5,389.84 245.2,390.37 245.9,390.78 246.6,390.69 247.3,390.89 248.0,390.74 248.7,390.38 249.4,390.64 250.1,390.47 250.8,389.87 251.5,391.08 252.2,390.55 252.9,389.98 253.6,390.55 254.3,390.51 255.0,390.80 255.7,390.97 256.4,389.19 257.1,390.62 257.8,391.01 258.5,390.02 259.2,389.66 259.9,390.51 260.6,390.53 261.3,390.54 262.0,389.96 262.7,390.21" fill="none" stroke="#b01838" stroke-width="1.7249999999999999" stroke-linejoin="round" opacity="1"/>
<line x1="199.7" y1="417.2" x2="262.8" y2="417.2" stroke="#8e8e8e" stroke-width="1.1" stroke-dasharray="1.1,2.05" />
<line x1="199.7" y1="443.4" x2="262.8" y2="443.4" stroke="#8e8e8e" stroke-width="1.1" stroke-dasharray="1.1,2.05" />
<line x1="199.7" y1="423.4" x2="262.8" y2="423.4" stroke="#aab0cc" stroke-width="0.95" stroke-dasharray="4.5,3.2,1.4,3.5" />
<line x1="199.7" y1="436.5" x2="262.8" y2="436.5" stroke="#aab0cc" stroke-width="0.95" stroke-dasharray="4.5,3.2,1.4,3.5" />
<polyline points="199.7,429.64 200.7,429.75 201.7,430.03 202.7,429.66 203.7,429.48 204.7,429.13 205.7,429.81 206.7,429.57 207.7,429.58 208.7,429.40 209.7,429.75 210.7,429.24 211.7,429.62 212.7,429.62 213.7,429.66 214.7,429.86 215.7,429.58 216.7,429.62 217.7,429.77 218.7,429.29 219.7,429.54 220.7,429.61 221.7,429.79 222.7,429.44 223.7,429.76 224.7,429.68 225.7,429.30 226.7,429.31 227.7,429.32 228.7,430.23 229.7,431.44 230.7,430.34 231.7,429.76 232.7,429.49 233.7,429.81 234.7,429.76 235.7,429.69 236.7,429.70 237.7,429.34 238.7,429.67 239.7,429.39 240.7,429.36 241.7,429.53 242.7,429.63 243.7,429.59 244.7,429.53 245.7,429.40 246.7,429.64 247.7,429.45 248.7,429.32 249.7,429.62 250.7,429.89 251.7,429.52 252.7,429.39 253.7,429.88 254.7,429.94 255.7,429.54 256.7,429.56 257.7,429.64 258.7,430.19 259.7,429.63 260.7,429.80 261.7,429.69 262.7,429.24" fill="none" stroke="#2e2e84" stroke-width="1.3" stroke-linejoin="round" opacity="1"/>
<text x="210.94" y="372.89" font-size="9.30" font-weight="bold" fill="#111" textLength="49.53" lengthAdjust="spacingAndGlyphs" >del 824 kb</text>
<rect x="222.35" y="378.45" width="16.29999999999999" height="64.70000000000002" fill="none" stroke="#111" stroke-width="2.9" stroke-dasharray="6,2.6"/>
</g>
</svg></body></html>
